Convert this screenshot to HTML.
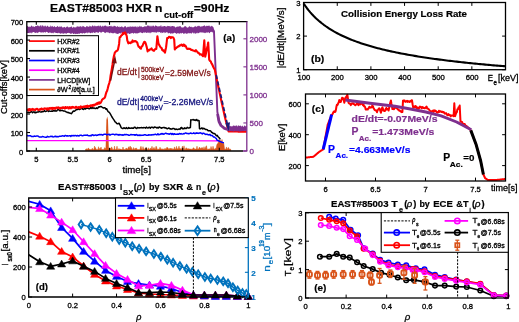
<!DOCTYPE html>
<html><head><meta charset="utf-8"><style>
html,body{margin:0;padding:0;background:#fff;overflow:hidden;}
svg{display:block;will-change:transform;font-family:"Liberation Sans", sans-serif;}
</style></head><body>
<svg width="519" height="322" viewBox="0 0 519 322">
<rect x="0" y="0" width="519" height="322" fill="#fff"/>
<text transform="translate(50.00,11.90) scale(1.0271,1)" font-size="11.8" font-weight="bold" fill="#000" stroke="#000" stroke-width="0.195">EAST#85003 HXR n</text>
<text transform="translate(164.10,17.80) scale(0.9946,1)" font-size="9.4" font-weight="bold" fill="#000" stroke="#000" stroke-width="0.201">cut-off</text>
<text transform="translate(193.70,11.90) scale(1.0399,1)" font-size="11.8" font-weight="bold" fill="#000" stroke="#000" stroke-width="0.192">=90Hz</text>
<polygon points="26.80,26.67 27.40,25.78 28.00,26.50 28.60,27.05 29.20,26.21 29.80,27.15 30.40,27.12 31.00,26.00 31.60,25.45 32.20,26.01 32.80,26.88 33.40,26.18 34.00,26.76 34.60,27.02 35.20,26.26 35.80,26.09 36.40,26.11 37.00,26.16 37.60,25.17 38.20,25.44 38.80,26.37 39.40,26.41 40.00,25.54 40.60,25.39 41.20,25.18 41.80,26.90 42.40,25.26 43.00,25.14 43.60,26.77 44.20,25.51 44.80,26.76 45.40,25.19 46.00,26.73 46.60,26.77 47.20,25.53 47.80,25.98 48.40,26.66 49.00,26.79 49.60,26.84 50.20,26.69 50.80,25.35 51.40,26.58 52.00,26.78 52.60,25.65 53.20,27.04 53.80,26.87 54.40,25.89 55.00,26.78 55.60,27.19 56.20,26.94 56.80,26.74 57.40,25.72 58.00,26.45 58.60,27.18 59.20,25.91 59.80,27.13 60.40,26.28 61.00,27.28 61.60,26.08 62.20,26.94 62.80,27.65 63.40,27.32 64.00,27.31 64.60,26.72 65.20,27.49 65.80,27.70 66.40,26.84 67.00,26.75 67.60,26.22 68.20,27.85 68.80,27.09 69.40,27.58 70.00,26.87 70.60,27.25 71.20,26.13 71.80,26.65 72.40,27.64 73.00,27.85 73.60,26.61 74.20,27.82 74.80,26.98 75.40,27.26 76.00,27.68 76.60,26.47 77.20,26.45 77.80,26.32 78.40,27.09 79.00,26.08 79.60,26.92 80.20,26.09 80.80,26.49 81.40,26.54 82.00,27.41 82.60,25.73 83.20,26.18 83.80,26.13 84.40,26.63 85.00,27.24 85.60,27.30 86.20,26.46 86.80,26.03 87.40,26.15 88.00,26.77 88.60,26.65 89.20,26.80 89.80,25.51 90.40,26.31 91.00,26.49 91.60,26.70 92.20,25.58 92.80,25.43 93.40,25.94 94.00,26.73 94.60,25.45 95.20,25.66 95.80,26.43 96.40,26.11 97.00,26.53 97.60,25.78 98.20,26.33 98.80,25.13 99.40,26.77 100.00,25.33 100.60,25.63 101.20,26.36 101.80,26.89 102.40,26.12 103.00,25.46 103.60,26.71 104.20,25.85 104.80,25.87 105.40,25.57 106.00,25.81 106.60,26.21 107.20,27.08 107.80,25.84 108.40,26.66 109.00,25.92 109.60,26.10 110.20,26.53 110.80,25.64 111.40,25.63 112.00,27.11 112.60,26.25 113.20,26.73 113.80,25.86 114.40,25.77 115.00,26.33 115.60,26.24 116.20,26.41 116.80,27.22 117.40,25.87 118.00,26.69 118.60,27.11 119.20,26.17 119.80,27.59 120.40,26.77 121.00,26.91 121.60,26.35 122.20,26.38 122.80,27.24 123.40,27.60 124.00,26.94 124.60,26.37 125.20,26.18 125.80,26.19 126.40,27.50 127.00,27.38 127.60,26.75 128.20,26.38 128.80,27.33 129.40,26.36 130.00,27.50 130.60,26.12 131.20,26.82 131.80,26.87 132.40,26.73 133.00,26.06 133.60,27.06 134.20,26.74 134.80,26.49 135.40,26.74 136.00,25.96 136.60,27.17 137.20,27.40 137.80,26.12 138.40,26.70 139.00,27.19 139.60,25.83 140.20,26.06 140.80,27.08 141.40,26.16 142.00,26.73 142.60,27.14 143.20,27.08 143.80,26.82 144.40,26.28 145.00,26.53 145.60,26.22 146.20,26.78 146.80,25.97 147.40,25.56 148.00,25.52 148.60,25.71 149.20,25.39 149.80,26.43 150.40,26.59 151.00,25.36 151.60,26.52 152.20,26.47 152.80,25.42 153.40,25.49 154.00,26.18 154.60,26.87 155.20,25.67 155.80,25.16 156.40,25.99 157.00,26.00 157.60,26.57 158.20,26.73 158.80,25.94 159.40,25.92 160.00,26.63 160.60,25.47 161.20,25.33 161.80,26.91 162.40,26.21 163.00,26.48 163.60,26.16 164.20,26.03 164.80,25.88 165.40,26.85 166.00,25.87 166.60,26.88 167.20,26.34 167.80,25.69 168.40,26.06 169.00,26.23 169.60,26.32 170.20,25.66 170.80,27.00 171.40,26.16 172.00,26.06 172.60,25.95 173.20,26.34 173.80,26.25 174.40,26.35 175.00,27.07 175.60,27.69 176.20,26.58 176.80,27.34 177.40,26.58 178.00,26.61 178.60,26.86 179.20,26.04 179.80,26.59 180.40,26.10 181.00,26.77 181.60,27.42 182.20,27.80 182.80,27.22 183.40,27.45 184.00,26.91 184.60,26.16 185.20,26.10 185.80,26.43 186.40,26.80 187.00,27.79 187.60,27.57 188.20,27.54 188.80,26.72 189.40,26.10 190.00,26.84 190.60,27.11 191.20,26.56 191.80,27.20 192.40,27.15 193.00,27.22 193.60,27.35 194.20,26.90 194.80,26.22 195.40,25.76 196.00,27.37 196.60,26.70 197.20,25.69 197.80,26.46 198.40,26.07 199.00,25.58 199.60,26.22 200.20,26.15 200.80,26.88 201.40,26.26 202.00,26.38 202.60,26.33 203.20,26.08 203.80,25.70 204.40,25.27 205.00,25.72 205.60,26.82 206.20,25.59 206.80,26.34 207.40,25.73 208.00,25.88 208.60,25.58 209.20,26.48 209.80,25.27 210.40,26.84 211.00,26.42 211.60,25.78 212.20,25.93 212.80,26.75 213.60,27.50 214.40,31.80 212.80,32.72 212.20,31.81 211.60,31.85 211.00,32.34 210.40,31.80 209.80,33.03 209.20,33.19 208.60,32.02 208.00,32.70 207.40,32.61 206.80,32.19 206.20,32.74 205.60,33.16 205.00,32.20 204.40,33.30 203.80,32.69 203.20,32.55 202.60,32.34 202.00,32.98 201.40,32.20 200.80,32.12 200.20,32.76 199.60,32.28 199.00,33.37 198.40,32.88 197.80,33.61 197.20,32.61 196.60,32.99 196.00,33.66 195.40,33.75 194.80,32.45 194.20,33.75 193.60,33.56 193.00,32.52 192.40,32.51 191.80,33.59 191.20,33.38 190.60,32.99 190.00,33.48 189.40,33.24 188.80,32.71 188.20,33.38 187.60,33.36 187.00,34.06 186.40,33.82 185.80,32.80 185.20,33.65 184.60,33.55 184.00,33.46 183.40,34.06 182.80,32.84 182.20,32.99 181.60,33.29 181.00,33.78 180.40,32.70 179.80,33.79 179.20,33.60 178.60,33.20 178.00,33.45 177.40,33.09 176.80,33.97 176.20,33.47 175.60,33.04 175.00,33.18 174.40,32.56 173.80,33.03 173.20,33.54 172.60,33.68 172.00,32.94 171.40,33.46 170.80,33.63 170.20,33.44 169.60,32.95 169.00,32.77 168.40,33.42 167.80,33.30 167.20,32.09 166.60,32.28 166.00,32.61 165.40,32.65 164.80,33.21 164.20,31.94 163.60,32.53 163.00,32.56 162.40,32.99 161.80,33.24 161.20,31.94 160.60,33.26 160.00,32.07 159.40,31.97 158.80,32.51 158.20,31.78 157.60,31.82 157.00,32.74 156.40,32.84 155.80,31.87 155.20,33.07 154.60,32.00 154.00,32.73 153.40,31.90 152.80,32.35 152.20,31.88 151.60,32.84 151.00,31.96 150.40,33.28 149.80,33.18 149.20,32.29 148.60,33.06 148.00,32.21 147.40,32.81 146.80,32.71 146.20,32.89 145.60,32.21 145.00,32.62 144.40,32.69 143.80,32.36 143.20,32.86 142.60,33.23 142.00,33.09 141.40,32.68 140.80,32.57 140.20,32.30 139.60,32.49 139.00,33.26 138.40,32.84 137.80,33.74 137.20,33.07 136.60,33.16 136.00,33.87 135.40,33.13 134.80,32.63 134.20,33.29 133.60,33.78 133.00,33.37 132.40,32.66 131.80,33.39 131.20,32.95 130.60,33.45 130.00,33.95 129.40,34.04 128.80,33.26 128.20,33.54 127.60,33.48 127.00,33.79 126.40,33.49 125.80,32.82 125.20,33.43 124.60,33.71 124.00,33.75 123.40,32.88 122.80,33.82 122.20,32.88 121.60,32.70 121.00,32.63 120.40,33.71 119.80,33.20 119.20,33.04 118.60,33.85 118.00,33.65 117.40,33.90 116.80,33.75 116.20,33.45 115.60,33.56 115.00,32.61 114.40,32.97 113.80,33.43 113.20,33.06 112.60,33.54 112.00,32.82 111.40,33.19 110.80,32.20 110.20,33.23 109.60,33.14 109.00,32.76 108.40,32.47 107.80,32.19 107.20,32.60 106.60,32.14 106.00,32.14 105.40,33.26 104.80,32.78 104.20,32.45 103.60,31.84 103.00,32.11 102.40,31.77 101.80,31.93 101.20,32.90 100.60,32.56 100.00,31.77 99.40,31.75 98.80,32.38 98.20,32.96 97.60,32.45 97.00,32.33 96.40,32.13 95.80,31.98 95.20,33.17 94.60,33.03 94.00,32.52 93.40,32.27 92.80,32.39 92.20,33.21 91.60,32.50 91.00,32.88 90.40,33.25 89.80,32.93 89.20,32.22 88.60,33.01 88.00,32.04 87.40,33.44 86.80,32.84 86.20,32.47 85.60,33.06 85.00,33.32 84.40,33.48 83.80,33.13 83.20,32.87 82.60,33.64 82.00,33.31 81.40,33.30 80.80,32.99 80.20,33.30 79.60,33.66 79.00,33.81 78.40,33.56 77.80,33.92 77.20,33.63 76.60,33.95 76.00,33.43 75.40,34.13 74.80,33.74 74.20,33.62 73.60,34.12 73.00,34.05 72.40,32.74 71.80,33.57 71.20,33.68 70.60,34.04 70.00,32.90 69.40,33.25 68.80,32.78 68.20,33.08 67.60,32.98 67.00,33.08 66.40,33.92 65.80,32.97 65.20,33.69 64.60,33.03 64.00,33.80 63.40,33.60 62.80,33.96 62.20,32.65 61.60,33.37 61.00,33.86 60.40,33.82 59.80,32.66 59.20,33.57 58.60,32.54 58.00,33.58 57.40,32.97 56.80,32.89 56.20,33.08 55.60,33.02 55.00,32.22 54.40,32.58 53.80,32.44 53.20,33.50 52.60,32.95 52.00,32.55 51.40,33.26 50.80,33.11 50.20,32.28 49.60,32.48 49.00,32.79 48.40,32.90 47.80,32.46 47.20,32.04 46.60,31.84 46.00,32.11 45.40,32.86 44.80,32.22 44.20,32.11 43.60,32.65 43.00,32.30 42.40,32.40 41.80,32.02 41.20,32.98 40.60,32.29 40.00,32.32 39.40,31.83 38.80,32.08 38.20,32.82 37.60,33.26 37.00,32.20 36.40,32.80 35.80,32.79 35.20,33.12 34.60,32.57 34.00,32.27 33.40,32.02 32.80,31.98 32.20,32.91 31.60,33.47 31.00,32.11 30.40,33.30 29.80,32.57 29.20,33.34 28.60,32.95 28.00,33.10 27.40,32.95 26.80,33.12" fill="#7E2F8E"/>
<polyline points="213.00,29.50 214.00,31.50 217.40,112.20 218.80,120.50" fill="none" stroke="#7E2F8E" stroke-width="1.9" stroke-linejoin="round" stroke-linecap="butt" />
<polygon points="85.50,150.50 85.50,149.60 86.00,148.81 86.50,149.03 87.00,149.42 87.50,149.59 88.00,148.22 88.50,148.11 89.00,149.36 89.50,149.37 90.00,149.59 90.50,149.60 91.00,149.53 91.50,149.19 92.00,149.60 92.50,148.21 93.00,149.59 93.50,149.59 94.00,149.60 94.50,146.13 95.00,148.56 95.50,147.55 96.00,149.10 96.50,149.60 97.00,149.56 97.50,149.39 98.00,149.60 98.50,146.73 99.00,149.54 99.50,149.60 100.00,148.04 100.50,149.60 101.00,147.00 101.50,149.45 102.00,149.28 102.50,149.55 103.00,149.41 103.50,149.60 104.00,149.60 104.50,147.63 105.00,149.59 105.50,148.30 106.00,149.59 106.50,146.52 107.00,147.36 107.50,148.46 108.00,148.42 108.50,149.20 109.00,148.61 109.50,149.60 110.00,149.42 110.50,147.96 111.00,149.59 111.50,147.06 112.00,147.43 112.50,149.50 113.00,149.54 113.50,149.45 114.00,149.52 114.50,146.17 115.00,149.52 115.50,149.60 116.00,149.60 116.50,148.67 117.00,146.20 117.50,149.39 118.00,149.40 118.50,149.28 119.00,148.50 119.50,149.59 120.00,149.12 120.50,149.26 121.00,149.07 121.50,149.60 122.00,149.60 122.50,149.55 123.00,147.01 123.50,149.55 124.00,149.15 124.50,149.57 125.00,149.60 125.50,149.60 126.00,148.07 126.50,148.32 127.00,149.53 127.50,148.84 128.00,148.87 128.50,147.32 129.00,146.65 129.50,149.50 130.00,146.25 130.50,146.61 131.00,149.17 131.50,147.47 132.00,149.40 132.50,149.53 133.00,149.59 133.50,147.54 134.00,149.60 134.50,149.60 135.00,148.13 135.50,148.34 136.00,149.41 136.50,147.88 137.00,149.60 137.50,149.58 138.00,149.58 138.50,149.49 139.00,149.60 139.50,149.60 140.00,149.55 140.50,147.31 141.00,146.33 141.50,148.52 142.00,149.42 142.50,149.59 143.00,146.64 143.50,149.33 144.00,148.61 144.50,149.60 145.00,149.59 145.50,147.87 146.00,148.20 146.50,147.49 147.00,149.14 147.50,149.48 148.00,149.20 148.50,147.78 149.00,149.57 149.50,149.31 150.00,149.58 150.50,147.98 151.00,149.20 151.50,148.43 152.00,146.30 152.50,149.20 153.00,148.77 153.50,148.60 154.00,147.36 154.50,148.79 155.00,149.18 155.50,149.11 156.00,146.24 156.50,146.85 157.00,149.20 157.50,149.20 158.00,149.20 158.50,149.20 159.00,149.06 159.50,149.20 160.00,147.22 160.50,148.55 161.00,149.20 161.50,148.91 162.00,149.16 162.50,148.99 163.00,149.19 163.50,149.20 164.00,149.20 164.50,149.13 165.00,148.31 165.50,148.88 166.00,149.20 166.50,148.31 167.00,147.16 167.50,147.94 168.00,147.83 168.50,149.20 169.00,149.04 169.50,149.20 170.00,148.01 170.50,149.20 171.00,148.30 171.50,149.19 172.00,148.38 172.50,149.17 173.00,149.20 173.50,149.12 174.00,149.17 174.50,146.90 175.00,149.17 175.50,148.98 176.00,148.88 176.50,146.37 177.00,149.20 177.50,148.74 178.00,148.97 178.50,148.18 179.00,146.14 179.50,149.17 180.00,148.36 180.50,148.93 181.00,148.85 181.50,149.20 182.00,147.66 182.50,146.01 183.00,149.14 183.50,149.16 184.00,145.79 184.50,149.20 185.00,149.20 185.50,149.20 186.00,147.66 186.50,148.03 187.00,149.06 187.50,148.68 188.00,149.20 188.50,148.60 189.00,149.07 189.50,148.95 190.00,149.12 190.50,149.11 191.00,149.19 191.50,149.20 192.00,149.08 192.50,149.19 193.00,148.34 193.50,147.64 194.00,148.24 194.50,149.05 195.00,149.19 195.50,149.12 196.00,149.00 196.50,148.64 197.00,146.19 197.50,149.20 198.00,149.01 198.50,149.00 199.00,148.27 199.50,147.00 200.00,147.91 200.50,148.66 201.00,148.04 201.50,148.50 202.00,147.30 202.50,148.36 203.00,148.44 203.50,149.19 204.00,146.73 204.50,149.12 205.00,148.70 205.50,147.58 206.00,146.18 206.50,145.85 207.00,149.20 207.50,149.17 208.00,149.17 208.50,149.12 209.00,149.20 209.50,148.87 210.00,149.20 210.50,149.17 211.00,146.43 211.50,148.14 212.00,149.04 212.50,149.20 213.00,146.28 213.50,148.34 214.00,149.19 214.50,149.16 215.00,148.61 215.50,148.44 216.00,149.18 216.50,146.33 217.00,144.36 217.50,143.82 218.00,142.90 218.50,141.99 219.00,139.44 219.50,140.53 220.00,140.74 220.50,140.35 221.00,141.02 221.50,141.74 222.00,139.45 222.50,142.76 223.00,143.38 223.50,142.18 224.00,145.10 224.50,148.89 225.00,149.20 225.50,149.17 226.00,149.05 226.50,146.96 227.00,149.13 227.50,149.20 228.00,147.82 228.50,147.60 229.00,148.93 229.50,149.20 230.00,149.20 230.50,149.11 231.00,150.50" fill="#D95319" stroke="#D95319" stroke-width="0.5"/>
<polygon points="105.6,150.5 106.4,120 107.2,116.5 108,120 108.9,150.5" fill="#D95319"/>
<polyline points="26.80,140.60 160.00,140.60 217.90,140.90" fill="none" stroke="#FF00FF" stroke-width="1.3" stroke-linejoin="round" stroke-linecap="butt" />
<polyline points="26.80,135.64 27.63,135.55 28.45,135.89 29.28,135.69 30.11,135.65 30.94,136.03 31.76,136.59 32.59,136.52 33.42,136.53 34.25,136.03 35.07,136.39 35.90,136.18 36.73,136.12 37.55,136.10 38.38,136.25 39.21,137.01 40.04,136.96 40.86,136.98 41.69,137.02 42.52,136.46 43.35,136.62 44.17,136.98 45.00,137.13 45.80,137.22 46.60,137.21 47.40,136.38 48.20,136.86 49.00,136.89 49.80,136.69 50.60,136.33 51.40,136.59 52.20,136.17 53.00,136.97 53.80,136.87 54.60,136.52 55.40,136.23 56.20,136.80 57.00,136.43 57.80,136.71 58.60,136.64 59.40,136.26 60.20,136.13 61.00,136.28 61.80,136.08 62.60,135.77 63.40,135.88 64.20,136.35 65.00,135.54 65.83,135.52 66.65,136.08 67.48,135.72 68.30,135.95 69.13,135.86 69.96,135.71 70.78,136.35 71.61,135.52 72.43,135.72 73.26,135.49 74.09,135.89 74.91,135.52 75.74,135.57 76.57,135.94 77.39,135.49 78.22,135.71 79.04,136.03 79.87,135.21 80.70,135.15 81.52,135.29 82.35,135.81 83.17,135.64 84.00,135.24 84.81,135.30 85.63,135.11 86.44,135.36 87.26,134.91 88.07,135.53 88.89,135.70 89.70,135.72 90.52,135.47 91.33,135.66 92.15,134.68 92.96,134.92 93.78,135.57 94.59,135.34 95.41,134.94 96.22,135.44 97.04,135.09 97.85,135.25 98.67,134.69 99.48,134.56 100.30,134.78 101.11,134.44 101.93,134.65 102.74,135.20 103.56,134.53 104.37,134.18 105.19,134.18 106.00,134.27 106.81,134.89 107.61,134.48 108.42,134.42 109.22,134.24 110.03,135.13 110.84,134.59 111.64,134.38 112.45,134.24 113.26,134.25 114.06,134.37 114.87,134.89 115.67,134.37 116.48,134.28 117.29,134.74 118.09,134.51 118.90,135.26 119.71,134.40 120.51,134.82 121.32,135.07 122.12,134.72 122.93,135.31 123.74,134.81 124.54,134.58 125.35,134.76 126.16,134.40 126.96,134.79 127.77,134.63 128.57,135.28 129.38,135.23 130.19,134.91 130.99,134.45 131.80,134.69 132.61,134.69 133.41,134.66 134.22,134.70 135.02,135.34 135.83,134.63 136.64,134.55 137.44,135.43 138.25,135.08 139.06,135.52 139.86,134.94 140.67,135.45 141.47,135.21 142.28,135.36 143.09,135.32 143.89,135.08 144.70,134.69 145.53,134.76 146.35,135.36 147.18,135.33 148.00,135.30 148.83,134.66 149.66,134.92 150.48,135.01 151.31,134.80 152.13,134.91 152.96,134.57 153.79,134.64 154.61,134.62 155.44,134.15 156.26,134.75 157.09,134.72 157.91,133.79 158.74,134.63 159.57,134.56 160.39,134.21 161.22,133.53 162.04,134.33 162.87,133.51 163.70,134.29 164.52,133.93 165.35,133.27 166.17,133.32 167.00,133.74 167.81,133.73 168.62,133.97 169.44,134.21 170.25,133.57 171.06,133.42 171.88,134.40 172.69,133.55 173.50,134.48 174.34,133.68 175.19,134.33 176.03,134.27 176.88,134.33 177.72,133.96 178.56,134.25 179.41,133.54 180.25,133.97 181.09,133.59 181.94,134.12 182.78,133.96 183.62,133.62 184.47,133.64 185.31,133.10 186.16,133.07 187.00,133.59 187.84,133.46 188.69,133.81 189.53,133.53 190.38,133.04 191.22,133.24 192.06,133.62 192.91,133.35 193.75,132.81 194.59,133.61 195.44,133.58 196.28,132.81 197.12,133.24 197.97,133.06 198.81,133.44 199.66,132.94 200.50,132.83 201.36,133.24 202.23,133.88 203.09,133.16 203.95,133.33 204.82,133.99 205.68,134.41 206.55,134.19 207.41,134.27 208.27,134.85 209.14,134.92 210.00,134.37 210.88,135.63 211.77,135.40 212.65,135.95 213.53,136.94 214.42,136.97 215.30,137.80 216.17,138.30 217.03,140.14 217.90,140.58 218.93,140.92 219.97,141.63 221.00,141.84 221.97,142.34 222.93,142.60 223.90,142.90" fill="none" stroke="#0000FF" stroke-width="1.5" stroke-linejoin="round" stroke-linecap="butt" />
<polyline points="26.80,112.13 27.62,112.53 28.44,112.26 29.26,112.56 30.08,112.56 30.90,111.74 31.72,111.64 32.54,112.76 33.36,111.92 34.18,111.86 35.00,112.89 35.86,112.08 36.72,112.50 37.58,111.92 38.43,112.06 39.29,111.29 40.15,111.89 41.01,112.13 41.87,111.57 42.72,111.79 43.58,111.61 44.44,110.67 45.30,111.56 46.11,111.27 46.92,110.82 47.73,110.39 48.54,111.50 49.35,110.90 50.16,111.19 50.97,111.36 51.78,111.08 52.59,111.32 53.41,110.53 54.22,111.04 55.03,110.49 55.84,111.13 56.65,110.99 57.46,109.85 58.27,109.85 59.08,109.91 59.89,110.90 60.70,110.11 61.54,110.60 62.38,110.37 63.21,110.89 64.05,110.94 64.89,111.12 65.73,111.67 66.56,111.89 67.40,112.57 68.38,112.50 69.35,113.10 70.33,113.25 71.30,113.69 72.26,112.50 73.22,111.05 74.18,111.28 75.14,110.69 76.10,109.87 76.94,109.33 77.79,109.47 78.63,108.71 79.47,109.51 80.32,109.09 81.16,108.62 82.01,108.25 82.85,109.30 83.69,109.42 84.54,108.10 85.38,109.03 86.22,108.42 87.07,108.00 87.91,108.14 88.76,108.74 89.60,108.82 90.47,107.60 91.34,108.34 92.21,107.48 93.08,108.37 93.95,107.76 94.82,108.47 95.69,108.55 96.56,107.83 97.43,108.46 98.30,107.43 99.15,106.66 100.00,106.94 100.84,106.42 101.67,106.93 102.51,107.50 103.35,108.05 104.19,107.69 105.03,107.81 105.86,109.24 106.70,108.74 107.53,110.77 108.35,111.81 109.17,112.20 110.00,113.44 110.85,114.93 111.70,116.50 112.55,117.83 113.40,119.18 114.25,120.39 115.10,121.97 115.95,122.48 116.80,123.50 117.90,123.91 119.00,123.23 120.10,125.02 121.20,127.67 122.30,128.53 123.10,128.53 123.90,127.74 124.70,128.27 125.50,128.47 126.30,127.65 127.10,128.45 127.90,128.44 128.70,127.60 129.50,128.36 130.30,128.10 131.10,128.36 131.90,127.87 132.70,128.33 133.50,128.33 134.30,127.32 135.11,127.35 135.91,128.20 136.71,128.59 137.52,127.58 138.32,127.85 139.12,128.02 139.92,127.63 140.73,127.67 141.53,127.59 142.33,127.65 143.14,127.95 143.94,127.52 144.74,127.62 145.55,128.15 146.35,127.10 147.15,127.84 147.95,128.06 148.76,127.45 149.56,127.31 150.36,128.11 151.17,127.30 151.97,127.21 152.77,127.55 153.58,127.90 154.38,127.05 155.18,127.34 155.98,127.34 156.79,128.03 157.59,127.46 158.39,128.03 159.20,127.05 160.00,127.27 160.84,127.80 161.69,128.21 162.53,127.69 163.38,127.47 164.22,127.41 165.06,128.07 165.91,127.68 166.75,128.63 167.59,128.76 168.44,127.93 169.28,128.15 170.12,128.98 170.97,128.84 171.81,129.15 172.66,128.60 173.50,128.38 174.30,128.75 175.10,129.59 175.90,129.00 176.70,129.24 177.50,129.48 178.32,129.21 179.14,128.91 179.96,129.35 180.78,128.00 181.60,127.51 182.40,128.76 183.20,128.60 184.00,128.69 184.80,127.85 185.60,128.51 186.40,128.42 187.20,127.37 188.00,128.03 188.80,128.10 189.60,127.79 190.40,127.53 190.80,119.80 191.63,119.88 192.46,119.72 193.29,119.50 194.12,120.22 194.95,119.80 195.78,120.53 196.61,119.46 197.44,120.67 198.27,120.37 199.10,120.69 199.50,128.76 200.33,128.88 201.17,128.54 202.00,127.87 202.83,129.01 203.67,128.32 204.50,128.62 205.42,129.46 206.33,129.60 207.25,129.78 208.17,130.85 209.08,130.72 210.00,130.68 210.80,131.09 211.60,132.49 212.40,132.49 213.20,133.46 214.00,133.39 214.82,133.73 215.63,134.75 216.45,135.69 217.27,135.34 218.08,136.76 218.90,137.49 220.40,139.40" fill="none" stroke="#000" stroke-width="1.5" stroke-linejoin="round" stroke-linecap="butt" />
<polyline points="26.80,109.94 27.41,109.76 28.01,109.35 28.62,110.49 29.23,109.08 29.83,109.84 30.44,110.44 31.05,109.10 31.65,109.82 32.26,109.89 32.87,108.93 33.47,109.44 34.08,109.93 34.69,109.49 35.29,109.89 35.90,108.95 36.51,109.05 37.11,108.81 37.72,109.41 38.33,110.04 38.93,109.48 39.54,109.74 40.15,109.08 40.75,109.63 41.36,108.56 41.97,108.83 42.57,109.41 43.18,109.46 43.79,108.94 44.39,108.37 45.00,108.63 45.60,108.50 46.20,108.57 46.80,109.38 47.40,108.36 48.00,109.42 48.60,109.37 49.20,108.01 49.80,108.49 50.40,108.63 51.00,107.84 51.60,108.44 52.20,109.17 52.80,107.86 53.40,108.59 54.00,107.79 54.60,108.49 55.20,108.95 55.80,107.80 56.40,107.45 57.00,107.53 57.60,108.22 58.20,107.35 58.80,107.42 59.40,108.03 60.00,108.67 60.61,107.85 61.22,107.79 61.83,108.15 62.44,107.26 63.05,108.01 63.66,107.34 64.27,108.01 64.88,108.55 65.49,107.08 66.10,107.86 66.71,107.92 67.32,107.16 67.93,107.33 68.54,108.47 69.15,108.45 69.76,107.02 70.37,107.94 70.98,108.31 71.59,107.14 72.21,107.72 72.82,106.78 73.43,107.28 74.04,107.75 74.65,107.59 75.26,107.86 75.87,106.74 76.48,107.13 77.09,107.94 77.70,107.47 78.31,107.23 78.92,107.13 79.53,108.04 80.14,107.36 80.75,106.44 81.36,107.67 81.97,106.90 82.58,107.04 83.19,106.66 83.80,107.01 84.40,106.70 85.00,106.20 85.60,106.95 86.20,105.99 86.80,106.96 87.40,105.63 88.00,106.72 88.60,106.64 89.20,106.03 89.80,106.25 90.40,105.39 91.00,106.06 91.60,105.44 92.20,105.01 92.80,106.06 93.40,105.04 94.02,104.75 94.64,105.28 95.25,104.25 95.87,104.49 96.49,103.45 97.11,104.28 97.73,103.10 98.35,102.52 98.96,103.75 99.58,102.22 100.20,103.21 100.81,102.62 101.43,101.36 102.04,99.75 102.66,99.17 103.27,98.75 103.89,98.38 104.50,98.08 105.16,96.85 105.82,94.07 106.48,91.93 107.14,90.80 107.80,88.32 108.53,85.27 109.27,83.06 110.00,80.31 110.62,75.39 111.23,72.09 111.85,68.58 112.47,64.76 113.08,60.23 113.70,57.12 114.80,52.77 115.90,51.44 116.60,51.00 117.30,50.64 118.00,49.49 119.10,43.96 119.70,37.28 120.50,37.00 121.30,35.38 122.10,35.01 122.90,33.03 123.63,33.98 124.37,32.92 125.10,32.42 125.90,34.03 126.70,35.83 127.30,40.29 128.40,43.32 129.10,42.61 129.80,42.74 130.50,43.11 131.20,42.06 131.90,42.31 132.60,40.45 133.30,41.59 133.94,41.52 134.58,41.07 135.22,41.14 135.86,41.26 136.50,41.96 137.23,42.40 137.97,45.13 138.70,46.77 139.43,46.95 140.17,48.19 140.90,48.75 141.70,46.42 142.50,46.02 143.10,44.26 143.70,42.95 144.30,41.82 145.15,42.23 146.00,44.46 146.80,47.35 147.60,51.41 148.26,49.95 148.92,50.48 149.58,49.91 150.24,49.32 150.90,49.30 151.54,48.38 152.18,49.70 152.82,50.14 153.46,50.66 154.10,50.65 154.83,49.41 155.57,48.90 156.30,48.87 157.40,36.19 158.50,43.60 159.30,45.17 160.10,46.45 160.83,47.62 161.57,47.87 162.30,50.14 162.98,49.98 163.65,51.25 164.32,50.56 165.00,52.63 166.10,47.14 167.20,37.96 167.80,38.04 168.40,37.87 169.00,36.77 169.60,37.22 170.20,37.10 170.80,38.05 171.40,37.17 172.00,37.29 172.60,37.18 173.40,37.74 174.20,39.60 174.80,49.46 175.50,48.05 176.20,48.19 176.90,47.30 177.60,46.94 178.25,46.37 178.90,46.48 179.55,45.53 180.20,45.24 180.85,45.35 181.50,44.52 182.16,45.02 182.82,45.95 183.48,44.60 184.14,44.85 184.80,46.08 185.44,45.67 186.08,46.76 186.72,48.50 187.36,48.89 188.00,49.05 188.65,48.64 189.30,48.84 189.95,48.73 190.60,49.38 191.26,49.90 191.93,49.83 192.59,50.26 193.25,50.54 193.91,50.69 194.57,51.00 195.24,51.31 195.90,50.15 196.55,51.06 197.20,51.50 197.85,52.62 198.50,52.99 199.15,53.31 199.80,54.64 200.44,54.32 201.08,54.39 201.72,54.88 202.36,55.56 203.00,56.18 203.65,48.31 204.30,40.30 205.20,56.80 205.80,54.28 206.40,51.30 207.00,48.19 207.60,45.93 208.20,42.50 209.20,59.64 209.97,60.85 210.73,61.32 211.50,63.40 212.15,64.24 212.80,65.72 213.45,67.27 214.10,68.40 214.90,70.00 215.53,73.10 216.15,76.20 216.78,79.30 217.40,82.40 218.02,85.30 218.63,88.20 219.25,91.10 219.87,94.00 220.48,96.90 221.10,99.80 221.73,102.68 222.37,105.57 223.00,108.45 223.63,111.33 224.27,114.22 224.90,117.10 225.52,119.50 226.13,121.90 226.75,124.30 227.37,126.70 227.98,129.10 228.60,131.50 229.24,131.50 229.88,131.50 230.52,131.50 231.16,131.50 231.80,131.50 232.44,131.50 233.08,131.50 233.72,131.50 234.36,131.50 235.00,131.50 235.62,131.52 236.24,131.53 236.86,131.55 237.48,131.56 238.11,131.58 238.73,131.59 239.35,131.61 239.97,131.63 240.59,131.64 241.21,131.66 241.83,131.67 242.45,131.69 243.07,131.71 243.69,131.72 244.32,131.74 244.94,131.75 245.56,131.77 246.18,131.78 246.80,131.80" fill="none" stroke="#FF0000" stroke-width="2.1" stroke-linejoin="round" stroke-linecap="butt" />
<polyline points="217.60,114.00 219.00,121.50 221.00,125.50 224.50,128.30 228.40,129.60" fill="none" stroke="#7E2F8E" stroke-width="2.8" stroke-linejoin="round" stroke-linecap="butt" />
<polygon points="227.50,126.53 228.10,125.70 228.70,125.94 229.30,125.41 229.90,126.60 230.50,125.83 231.10,126.68 231.70,126.03 232.30,126.55 232.90,125.80 233.50,125.55 234.10,125.40 234.70,126.11 235.30,125.61 235.90,126.16 236.50,125.36 237.10,125.43 237.70,126.76 238.30,125.48 238.90,125.35 239.50,126.05 240.10,126.04 240.70,125.34 241.30,126.81 241.90,125.97 242.50,125.57 243.10,126.69 243.70,126.84 244.30,125.65 244.90,125.36 245.50,126.62 246.10,125.98 246.70,125.83 246.70,131.27 246.10,130.98 245.50,130.93 244.90,130.84 244.30,131.21 243.70,131.17 243.10,131.07 242.50,131.06 241.90,130.98 241.30,131.57 240.70,130.96 240.10,131.40 239.50,131.64 238.90,130.97 238.30,131.49 237.70,131.12 237.10,131.67 236.50,131.30 235.90,131.37 235.30,131.16 234.70,130.85 234.10,131.44 233.50,131.70 232.90,131.18 232.30,130.98 231.70,131.61 231.10,130.99 230.50,130.89 229.90,131.50 229.30,130.82 228.70,131.29 228.10,131.11 227.50,131.10" fill="#7E2F8E"/>
<polyline points="216.20,74.90 227.40,124.50" fill="none" stroke="#1c1c7a" stroke-width="1.7" stroke-linejoin="round" stroke-linecap="butt" stroke-dasharray="4.2,2.4"/>
<polygon points="225.3,123.2 230.0,122.2 228.7,131.2" fill="#1c1c7a"/>
<polyline points="110.60,80.50 114.40,62.00" fill="none" stroke="#7a1010" stroke-width="1.4" stroke-linejoin="round" stroke-linecap="butt" />
<polygon points="112.0,62.8 116.8,63.6 115.2,55.8" fill="#7a1010"/>
<rect x="26.8" y="35.7" width="71.7" height="59.8" fill="#fff" stroke="#000" stroke-width="1"/>
<line x1="29.00" y1="41.10" x2="54.80" y2="41.10" stroke="#FF0000" stroke-width="1.7" />
<text transform="translate(57.20,43.70) scale(1.0000,1)" font-size="7.0" fill="#000" stroke="#000" stroke-width="0.300">HXR#2</text>
<line x1="29.00" y1="50.80" x2="54.80" y2="50.80" stroke="#000" stroke-width="1.7" />
<text transform="translate(57.20,53.40) scale(1.0000,1)" font-size="7.0" fill="#000" stroke="#000" stroke-width="0.300">HXR#1</text>
<line x1="29.00" y1="60.50" x2="54.80" y2="60.50" stroke="#0000FF" stroke-width="1.7" />
<text transform="translate(57.20,63.10) scale(1.0000,1)" font-size="7.0" fill="#000" stroke="#000" stroke-width="0.300">HXR#3</text>
<line x1="29.00" y1="70.20" x2="54.80" y2="70.20" stroke="#FF00FF" stroke-width="1.7" />
<text transform="translate(57.20,72.80) scale(1.0000,1)" font-size="7.0" fill="#000" stroke="#000" stroke-width="0.300">HXR#4</text>
<line x1="29.00" y1="79.90" x2="54.80" y2="79.90" stroke="#7E2F8E" stroke-width="1.7" />
<text transform="translate(57.20,82.50) scale(1.0000,1)" font-size="7.0" fill="#000" stroke="#000" stroke-width="0.300">LHCD[kW]</text>
<line x1="29.00" y1="89.60" x2="54.80" y2="89.60" stroke="#D95319" stroke-width="1.7" />
<text transform="translate(57.20,92.30) scale(1.0534,1)" font-size="7.0" fill="#000" stroke="#000" stroke-width="0.285">∂W</text>
<text transform="translate(68.40,89.00) scale(1.0000,1)" font-size="4.8" fill="#000" stroke="#000" stroke-width="0.300">2</text>
<text transform="translate(71.60,92.30) scale(1.0128,1)" font-size="7.0" fill="#000" stroke="#000" stroke-width="0.296">/∂t[a.u.]</text>
<path d="M26.8,151.0 L26.8,21.6 L246.8,21.6" fill="none" stroke="#000" stroke-width="1.3" stroke-linecap="square"/>
<line x1="26.80" y1="151.00" x2="243.00" y2="151.00" stroke="#000" stroke-width="1.3" />
<line x1="243.00" y1="151.00" x2="247.40" y2="151.00" stroke="#7E2F8E" stroke-width="1.3" />
<line x1="246.80" y1="21.60" x2="246.80" y2="151.00" stroke="#7E2F8E" stroke-width="1.3" />
<line x1="36.30" y1="151.00" x2="36.30" y2="147.80" stroke="#000" stroke-width="1.1" />
<line x1="36.30" y1="21.60" x2="36.30" y2="24.80" stroke="#000" stroke-width="1.1" />
<text transform="translate(34.19,161.90) scale(1.0000,1)" font-size="7.6" fill="#000" stroke="#000" stroke-width="0.300">5</text>
<line x1="72.90" y1="151.00" x2="72.90" y2="147.80" stroke="#000" stroke-width="1.1" />
<line x1="72.90" y1="21.60" x2="72.90" y2="24.80" stroke="#000" stroke-width="1.1" />
<text transform="translate(67.62,161.90) scale(1.0000,1)" font-size="7.6" fill="#000" stroke="#000" stroke-width="0.300">5.5</text>
<line x1="109.50" y1="151.00" x2="109.50" y2="147.80" stroke="#000" stroke-width="1.1" />
<line x1="109.50" y1="21.60" x2="109.50" y2="24.80" stroke="#000" stroke-width="1.1" />
<text transform="translate(107.39,161.90) scale(1.0000,1)" font-size="7.6" fill="#000" stroke="#000" stroke-width="0.300">6</text>
<line x1="146.10" y1="151.00" x2="146.10" y2="147.80" stroke="#000" stroke-width="1.1" />
<line x1="146.10" y1="21.60" x2="146.10" y2="24.80" stroke="#000" stroke-width="1.1" />
<text transform="translate(140.82,161.90) scale(1.0000,1)" font-size="7.6" fill="#000" stroke="#000" stroke-width="0.300">6.5</text>
<line x1="182.70" y1="151.00" x2="182.70" y2="147.80" stroke="#000" stroke-width="1.1" />
<line x1="182.70" y1="21.60" x2="182.70" y2="24.80" stroke="#000" stroke-width="1.1" />
<text transform="translate(180.59,161.90) scale(1.0000,1)" font-size="7.6" fill="#000" stroke="#000" stroke-width="0.300">7</text>
<line x1="219.30" y1="151.00" x2="219.30" y2="147.80" stroke="#000" stroke-width="1.1" />
<line x1="219.30" y1="21.60" x2="219.30" y2="24.80" stroke="#000" stroke-width="1.1" />
<text transform="translate(214.02,161.90) scale(1.0000,1)" font-size="7.6" fill="#000" stroke="#000" stroke-width="0.300">7.5</text>
<line x1="26.80" y1="151.00" x2="30.00" y2="151.00" stroke="#000" stroke-width="1.1" />
<text transform="translate(19.08,154.60) scale(1.0000,1)" font-size="7.6" fill="#000" stroke="#000" stroke-width="0.300">0</text>
<line x1="26.80" y1="132.51" x2="30.00" y2="132.51" stroke="#000" stroke-width="1.1" />
<text transform="translate(10.63,136.11) scale(1.0000,1)" font-size="7.6" fill="#000" stroke="#000" stroke-width="0.300">100</text>
<line x1="26.80" y1="114.03" x2="30.00" y2="114.03" stroke="#000" stroke-width="1.1" />
<text transform="translate(10.63,117.63) scale(1.0000,1)" font-size="7.6" fill="#000" stroke="#000" stroke-width="0.300">200</text>
<line x1="26.80" y1="95.54" x2="30.00" y2="95.54" stroke="#000" stroke-width="1.1" />
<text transform="translate(10.63,99.14) scale(1.0000,1)" font-size="7.6" fill="#000" stroke="#000" stroke-width="0.300">300</text>
<line x1="26.80" y1="77.06" x2="30.00" y2="77.06" stroke="#000" stroke-width="1.1" />
<text transform="translate(10.63,80.66) scale(1.0000,1)" font-size="7.6" fill="#000" stroke="#000" stroke-width="0.300">400</text>
<line x1="26.80" y1="58.57" x2="30.00" y2="58.57" stroke="#000" stroke-width="1.1" />
<text transform="translate(10.63,62.17) scale(1.0000,1)" font-size="7.6" fill="#000" stroke="#000" stroke-width="0.300">500</text>
<line x1="26.80" y1="40.09" x2="30.00" y2="40.09" stroke="#000" stroke-width="1.1" />
<text transform="translate(10.63,43.69) scale(1.0000,1)" font-size="7.6" fill="#000" stroke="#000" stroke-width="0.300">600</text>
<line x1="26.80" y1="21.60" x2="30.00" y2="21.60" stroke="#000" stroke-width="1.1" />
<text transform="translate(10.63,25.20) scale(1.0000,1)" font-size="7.6" fill="#000" stroke="#000" stroke-width="0.300">700</text>
<line x1="243.40" y1="151.00" x2="246.80" y2="151.00" stroke="#7E2F8E" stroke-width="1.1" />
<text transform="translate(249.50,154.10) scale(1.0000,1)" font-size="8.0" fill="#7E2F8E" stroke="#7E2F8E" stroke-width="0.300">0</text>
<line x1="243.40" y1="122.95" x2="246.80" y2="122.95" stroke="#7E2F8E" stroke-width="1.1" />
<text transform="translate(249.50,126.05) scale(1.0000,1)" font-size="8.0" fill="#7E2F8E" stroke="#7E2F8E" stroke-width="0.300">500</text>
<line x1="243.40" y1="94.90" x2="246.80" y2="94.90" stroke="#7E2F8E" stroke-width="1.1" />
<text transform="translate(249.50,98.00) scale(1.0000,1)" font-size="8.0" fill="#7E2F8E" stroke="#7E2F8E" stroke-width="0.300">1000</text>
<line x1="243.40" y1="66.85" x2="246.80" y2="66.85" stroke="#7E2F8E" stroke-width="1.1" />
<text transform="translate(249.50,69.95) scale(1.0000,1)" font-size="8.0" fill="#7E2F8E" stroke="#7E2F8E" stroke-width="0.300">1500</text>
<line x1="243.40" y1="38.80" x2="246.80" y2="38.80" stroke="#7E2F8E" stroke-width="1.1" />
<text transform="translate(249.50,41.90) scale(1.0000,1)" font-size="8.0" fill="#7E2F8E" stroke="#7E2F8E" stroke-width="0.300">2000</text>
<text transform="translate(122.50,173.10) scale(1.0715,1)" font-size="9.0" fill="#000" stroke="#000" stroke-width="0.280">time[s]</text>
<text transform="translate(7.00,114.00) rotate(-90) scale(1.0058,1)" font-size="9.3" fill="#000" stroke="#000" stroke-width="0.298">Cut-offs[keV]</text>
<text transform="translate(223.30,41.20) scale(1.0140,1)" font-size="9.6" font-weight="bold" fill="#000" stroke="#000" stroke-width="0.197">(a)</text>
<text transform="translate(117.00,75.40) scale(1.0268,1)" font-size="8.3" fill="#801414" stroke="#801414" stroke-width="0.292">dE/dt</text>
<line x1="138.90" y1="67.20" x2="138.90" y2="78.20" stroke="#801414" stroke-width="1.0" />
<text transform="translate(141.00,71.60) scale(1.0013,1)" font-size="6.8" fill="#801414" stroke="#801414" stroke-width="0.300">500keV</text>
<text transform="translate(141.00,79.60) scale(1.0013,1)" font-size="6.8" fill="#801414" stroke="#801414" stroke-width="0.300">300keV</text>
<text transform="translate(165.10,75.80) scale(1.0263,1)" font-size="8.3" fill="#801414" stroke="#801414" stroke-width="0.292">=2.59MeV/s</text>
<text transform="translate(116.90,104.80) scale(1.0320,1)" font-size="8.3" fill="#15157f" stroke="#15157f" stroke-width="0.291">dE/dt</text>
<line x1="138.30" y1="98.40" x2="138.30" y2="110.30" stroke="#15157f" stroke-width="1.0" />
<text transform="translate(140.30,101.30) scale(0.9797,1)" font-size="6.8" fill="#15157f" stroke="#15157f" stroke-width="0.306">400keV</text>
<text transform="translate(140.30,110.00) scale(0.9797,1)" font-size="6.8" fill="#15157f" stroke="#15157f" stroke-width="0.306">100keV</text>
<text transform="translate(163.40,105.20) scale(1.0552,1)" font-size="8.3" fill="#15157f" stroke="#15157f" stroke-width="0.284">=-2.26MeV/s</text>
<polyline points="303.60,3.51 305.28,5.96 306.97,8.24 308.65,10.37 310.33,12.37 312.01,14.24 313.70,16.01 315.38,17.67 317.06,19.24 318.74,20.73 320.43,22.15 322.11,23.50 323.79,24.78 325.47,26.00 327.16,27.17 328.84,28.29 330.52,29.36 332.20,30.38 333.88,31.37 335.57,32.31 337.25,33.22 338.93,34.10 340.62,34.95 342.30,35.76 343.98,36.55 345.66,37.31 347.35,38.04 349.03,38.76 350.71,39.45 352.39,40.11 354.08,40.76 355.76,41.39 357.44,42.00 359.12,42.59 360.81,43.17 362.49,43.73 364.17,44.27 365.85,44.80 367.54,45.32 369.22,45.82 370.90,46.31 372.58,46.79 374.26,47.26 375.95,47.72 377.63,48.16 379.31,48.59 381.00,49.02 382.68,49.43 384.36,49.84 386.04,50.24 387.73,50.62 389.41,51.00 391.09,51.37 392.77,51.74 394.46,52.09 396.14,52.44 397.82,52.79 399.50,53.12 401.19,53.45 402.87,53.77 404.55,54.09 406.23,54.40 407.92,54.71 409.60,55.01 411.28,55.30 412.96,55.59 414.64,55.87 416.33,56.15 418.01,56.43 419.69,56.70 421.38,56.96 423.06,57.22 424.74,57.48 426.42,57.73 428.11,57.98 429.79,58.22 431.47,58.46 433.15,58.70 434.84,58.93 436.52,59.16 438.20,59.38 439.88,59.61 441.56,59.83 443.25,60.04 444.93,60.25 446.61,60.46 448.29,60.67 449.98,60.87 451.66,61.07 453.34,61.27 455.02,61.47 456.71,61.66 458.39,61.85 460.07,62.04 461.75,62.22 463.44,62.41 465.12,62.59 466.80,62.76 468.49,62.94 470.17,63.11 471.85,63.28 473.53,63.45 475.22,63.62 476.90,63.78 478.58,63.95 480.26,64.11 481.94,64.27 483.63,64.42 485.31,64.58 486.99,64.73 488.68,64.88 490.36,65.03 492.04,65.18 493.72,65.33 495.40,65.47 497.09,65.62 498.77,65.76 500.45,65.90 502.13,66.04 503.82,66.17 505.50,66.31" fill="none" stroke="#000" stroke-width="2.1" stroke-linejoin="round" stroke-linecap="butt" />
<rect x="303.6" y="2.5" width="201.89999999999998" height="67.2" fill="none" stroke="#000" stroke-width="1.3"/>
<text transform="translate(297.38,80.20) scale(1.0000,1)" font-size="7.7" fill="#000" stroke="#000" stroke-width="0.300">100</text>
<line x1="337.25" y1="69.70" x2="337.25" y2="66.30" stroke="#000" stroke-width="1.0" />
<line x1="337.25" y1="2.50" x2="337.25" y2="5.90" stroke="#000" stroke-width="1.0" />
<text transform="translate(331.03,80.20) scale(1.0000,1)" font-size="7.7" fill="#000" stroke="#000" stroke-width="0.300">200</text>
<line x1="370.90" y1="69.70" x2="370.90" y2="66.30" stroke="#000" stroke-width="1.0" />
<line x1="370.90" y1="2.50" x2="370.90" y2="5.90" stroke="#000" stroke-width="1.0" />
<text transform="translate(364.68,80.20) scale(1.0000,1)" font-size="7.7" fill="#000" stroke="#000" stroke-width="0.300">300</text>
<line x1="404.55" y1="69.70" x2="404.55" y2="66.30" stroke="#000" stroke-width="1.0" />
<line x1="404.55" y1="2.50" x2="404.55" y2="5.90" stroke="#000" stroke-width="1.0" />
<text transform="translate(398.33,80.20) scale(1.0000,1)" font-size="7.7" fill="#000" stroke="#000" stroke-width="0.300">400</text>
<line x1="438.20" y1="69.70" x2="438.20" y2="66.30" stroke="#000" stroke-width="1.0" />
<line x1="438.20" y1="2.50" x2="438.20" y2="5.90" stroke="#000" stroke-width="1.0" />
<text transform="translate(431.98,80.20) scale(1.0000,1)" font-size="7.7" fill="#000" stroke="#000" stroke-width="0.300">500</text>
<line x1="471.85" y1="69.70" x2="471.85" y2="66.30" stroke="#000" stroke-width="1.0" />
<line x1="471.85" y1="2.50" x2="471.85" y2="5.90" stroke="#000" stroke-width="1.0" />
<text transform="translate(465.63,80.20) scale(1.0000,1)" font-size="7.7" fill="#000" stroke="#000" stroke-width="0.300">600</text>
<line x1="303.60" y1="69.70" x2="307.00" y2="69.70" stroke="#000" stroke-width="1.0" />
<line x1="505.50" y1="69.70" x2="502.10" y2="69.70" stroke="#000" stroke-width="1.0" />
<text transform="translate(296.23,72.50) scale(1.0000,1)" font-size="7.7" fill="#000" stroke="#000" stroke-width="0.300">1</text>
<line x1="303.60" y1="36.10" x2="307.00" y2="36.10" stroke="#000" stroke-width="1.0" />
<line x1="505.50" y1="36.10" x2="502.10" y2="36.10" stroke="#000" stroke-width="1.0" />
<text transform="translate(296.23,39.30) scale(1.0000,1)" font-size="7.7" fill="#000" stroke="#000" stroke-width="0.300">2</text>
<line x1="303.60" y1="2.50" x2="307.00" y2="2.50" stroke="#000" stroke-width="1.0" />
<line x1="505.50" y1="2.50" x2="502.10" y2="2.50" stroke="#000" stroke-width="1.0" />
<text transform="translate(296.23,5.70) scale(1.0000,1)" font-size="7.7" fill="#000" stroke="#000" stroke-width="0.300">3</text>
<text transform="translate(487.80,81.30) scale(0.8200,1)" font-size="9.5" fill="#000" stroke="#000" stroke-width="0.366">E</text>
<text transform="translate(493.50,85.30) scale(0.8279,1)" font-size="7.4" fill="#000" stroke="#000" stroke-width="0.362">e</text>
<text transform="translate(498.00,81.30) scale(0.9464,1)" font-size="9.5" fill="#000" stroke="#000" stroke-width="0.317">[keV]</text>
<text transform="translate(284.00,68.30) rotate(-90) scale(1.0357,1)" font-size="9.4" fill="#000" stroke="#000" stroke-width="0.290">|dE/dt|[MeV/s]</text>
<text transform="translate(341.00,17.10) scale(1.0161,1)" font-size="9.6" font-weight="bold" fill="#000" stroke="#000" stroke-width="0.197">Collision Energy Loss Rate</text>
<text transform="translate(310.90,62.20) scale(1.0926,1)" font-size="9.6" font-weight="bold" fill="#000" stroke="#000" stroke-width="0.183">(b)</text>
<polyline points="305.50,157.60 306.03,157.55 306.55,157.49 307.08,157.44 307.61,157.39 308.13,157.33 308.66,157.28 309.19,157.23 309.71,157.17 310.24,157.12 310.77,157.07 311.29,157.01 311.82,156.96 312.35,156.91 312.87,156.85 313.40,156.80 313.91,156.36 314.42,155.93 314.93,155.49 315.44,155.05 315.95,154.62 316.45,154.18 316.96,153.75 317.47,153.31 317.98,152.87 318.49,152.44 319.00,152.00 319.52,151.66 320.05,151.32 320.57,150.99 321.10,150.65 321.62,150.31 322.15,149.98 322.68,149.64 323.20,149.30 323.70,146.57 324.20,143.83 324.70,141.10 325.20,138.37 325.70,135.63 326.20,132.90 326.70,130.17 327.20,127.43 327.70,124.70 328.26,123.27 328.81,121.84 329.37,120.41 329.93,118.99 330.49,117.56 331.04,116.13 331.60,114.70 332.10,114.76 332.60,113.99 333.10,112.82 333.68,111.78 334.25,111.37 334.82,112.00 335.40,111.68 335.90,109.85 336.40,106.74 336.90,104.85 337.55,105.01 338.20,103.28 338.75,102.30 339.30,100.07 339.80,100.89 340.30,102.07 340.80,101.87 341.60,99.38 342.10,97.69 342.60,97.89 343.10,98.24 343.70,99.90 344.30,102.82 344.85,100.51 345.40,97.81 345.90,97.00 346.40,97.82 346.90,95.49 347.40,94.85 347.95,98.55 348.50,102.68 349.07,103.51 349.65,103.41 350.23,104.02 350.80,105.12 351.33,103.70 351.87,103.37 352.40,103.30 352.97,103.92 353.55,103.42 354.12,104.13 354.70,104.75 355.27,105.23 355.85,104.60 356.43,104.53 357.00,103.58 357.52,103.03 358.03,104.32 358.55,105.09 359.07,104.07 359.58,103.59 360.10,104.38 360.68,104.03 361.25,103.67 361.82,103.26 362.40,103.22 362.97,105.31 363.55,104.59 364.12,106.36 364.70,106.37 365.20,107.38 365.70,109.54 366.20,109.64 366.72,109.16 367.23,109.37 367.75,109.53 368.27,108.46 368.78,108.31 369.30,106.72 369.82,107.12 370.33,107.65 370.85,107.37 371.37,107.41 371.88,106.55 372.40,105.54 372.97,106.30 373.55,108.26 374.12,108.97 374.70,110.10 375.27,110.22 375.85,110.59 376.43,110.42 377.00,112.24 377.57,110.14 378.15,109.91 378.73,108.63 379.30,108.29 379.83,109.42 380.37,110.90 380.90,112.68 381.40,110.57 381.90,108.24 382.40,107.40 382.93,108.89 383.47,110.62 384.00,110.76 384.57,111.03 385.15,110.76 385.73,108.84 386.30,107.96 386.88,109.44 387.45,109.00 388.03,109.45 388.60,110.57 389.18,107.49 389.75,104.86 390.32,102.59 390.90,100.52 391.40,103.72 391.90,105.70 392.40,108.99 392.92,107.89 393.43,108.40 393.95,109.25 394.47,108.28 394.98,107.61 395.50,107.68 396.15,107.56 396.80,108.45 397.45,108.52 398.10,109.67 398.68,109.91 399.25,110.80 399.82,110.54 400.40,111.10 400.90,111.61 401.40,112.11 401.90,111.12 402.40,112.04 403.00,100.64 403.50,100.47 404.00,101.28 404.50,100.44 405.00,101.25 405.50,101.83 406.00,101.42 406.50,101.16 407.00,100.90 407.50,101.90 408.00,101.06 408.50,101.26 409.00,101.42 409.50,102.00 410.00,101.38 410.50,100.96 411.00,101.43 411.50,100.30 412.00,100.30 412.60,104.27 413.20,107.50 413.71,106.65 414.23,106.73 414.74,107.22 415.25,105.92 415.76,107.21 416.27,106.48 416.79,108.57 417.30,108.53 417.95,107.66 418.60,108.63 419.25,108.08 419.90,106.61 420.55,106.80 421.20,107.09 421.74,108.29 422.28,107.05 422.82,107.17 423.36,107.95 423.90,107.76 424.44,108.18 424.98,108.18 425.52,107.76 426.06,106.99 426.60,106.54 427.12,108.48 427.63,108.36 428.15,108.96 428.67,109.19 429.18,109.80 429.70,110.42 430.33,110.96 430.97,111.44 431.60,111.41 432.23,110.97 432.87,110.70 433.50,111.95 434.02,110.23 434.53,110.88 435.05,111.23 435.57,110.67 436.08,111.30 436.60,111.85 437.18,112.69 437.75,112.11 438.32,112.28 438.90,110.73 439.47,111.91 440.05,111.34 440.62,111.19 441.20,111.87 441.72,111.72 442.23,112.03 442.75,111.72 443.27,112.53 443.78,112.17 444.30,112.90 444.88,113.63 445.45,113.36 446.03,113.11 446.60,114.24 447.18,115.00 447.75,115.26 448.32,114.17 448.90,114.89 449.49,114.77 450.07,115.12 450.66,116.39 451.25,115.58 451.84,115.43 452.43,115.40 453.01,115.75 453.60,116.21 454.30,103.32 455.10,116.14 455.68,114.49 456.25,112.84 456.82,112.29 457.40,109.24 457.97,109.31 458.55,107.16 459.12,107.40 459.70,105.48 460.50,121.80 461.07,121.75 461.65,121.69 462.23,122.30 462.80,124.14 463.43,123.91 464.07,124.04 464.70,124.03 465.33,125.44 465.97,125.87 466.60,125.91 467.12,127.18 467.65,126.96 468.18,127.59 468.70,127.89 469.23,128.52 469.75,129.14 470.28,129.77 470.80,130.40 471.34,131.84 471.88,133.28 472.42,134.72 472.96,136.16 473.50,137.60 474.04,139.04 474.58,140.48 475.12,141.92 475.66,143.36 476.20,144.80 476.70,146.60 477.20,148.40 477.70,150.20 478.20,152.00 478.70,153.80 479.20,155.60 479.70,157.40 480.20,159.20 480.70,161.00 481.24,163.70 481.78,166.40 482.32,169.10 482.86,171.80 483.40,174.50 484.00,175.73 484.60,176.97 485.20,178.20 485.74,178.56 486.28,178.92 486.82,179.28 487.36,179.64 487.90,180.00 488.41,180.00 488.91,180.00 489.42,180.00 489.92,180.00 490.43,180.00 490.94,180.00 491.44,180.00 491.95,180.00 492.46,180.00 492.96,180.00 493.47,180.00 493.98,180.00 494.48,180.00 494.99,180.00 495.49,180.00 496.00,180.00 496.50,179.95 497.00,179.89 497.50,179.84 498.00,179.79 498.50,179.74 499.00,179.68 499.50,179.63 500.00,179.58 500.50,179.53 501.00,179.47 501.50,179.42 502.00,179.37 502.50,179.32 503.00,179.26 503.50,179.21 504.00,179.16 504.50,179.11 505.00,179.05 505.50,179.00" fill="none" stroke="#FF0000" stroke-width="2.0" stroke-linejoin="round" stroke-linecap="butt" />
<polyline points="323.20,149.30 331.60,114.70" fill="none" stroke="#0000FF" stroke-width="3.0" stroke-linejoin="round" stroke-linecap="butt" />
<polyline points="345.40,100.00 370.00,103.30 395.00,106.20 410.40,109.00 425.80,112.00 441.20,115.90 456.60,122.00 471.30,129.80" fill="none" stroke="#7E2F8E" stroke-width="2.9" stroke-linejoin="round" stroke-linecap="butt" />
<polyline points="470.80,130.40 476.20,144.80 480.70,161.00 483.40,174.50" fill="none" stroke="#000" stroke-width="3.0" stroke-linejoin="round" stroke-linecap="butt" />
<rect x="305.5" y="94" width="200.0" height="87" fill="none" stroke="#000" stroke-width="1.3"/>
<line x1="325.50" y1="181.00" x2="325.50" y2="177.60" stroke="#000" stroke-width="1.0" />
<line x1="325.50" y1="94.00" x2="325.50" y2="97.40" stroke="#000" stroke-width="1.0" />
<text transform="translate(323.39,192.10) scale(1.0000,1)" font-size="7.6" fill="#000" stroke="#000" stroke-width="0.300">6</text>
<line x1="375.50" y1="181.00" x2="375.50" y2="177.60" stroke="#000" stroke-width="1.0" />
<line x1="375.50" y1="94.00" x2="375.50" y2="97.40" stroke="#000" stroke-width="1.0" />
<text transform="translate(370.22,192.10) scale(1.0000,1)" font-size="7.6" fill="#000" stroke="#000" stroke-width="0.300">6.5</text>
<line x1="425.50" y1="181.00" x2="425.50" y2="177.60" stroke="#000" stroke-width="1.0" />
<line x1="425.50" y1="94.00" x2="425.50" y2="97.40" stroke="#000" stroke-width="1.0" />
<text transform="translate(423.39,192.10) scale(1.0000,1)" font-size="7.6" fill="#000" stroke="#000" stroke-width="0.300">7</text>
<line x1="475.50" y1="181.00" x2="475.50" y2="177.60" stroke="#000" stroke-width="1.0" />
<line x1="475.50" y1="94.00" x2="475.50" y2="97.40" stroke="#000" stroke-width="1.0" />
<text transform="translate(470.22,192.10) scale(1.0000,1)" font-size="7.6" fill="#000" stroke="#000" stroke-width="0.300">7.5</text>
<line x1="305.50" y1="165.60" x2="308.90" y2="165.60" stroke="#000" stroke-width="1.0" />
<line x1="505.50" y1="165.60" x2="502.10" y2="165.60" stroke="#000" stroke-width="1.0" />
<text transform="translate(288.43,168.90) scale(1.0000,1)" font-size="7.6" fill="#000" stroke="#000" stroke-width="0.300">200</text>
<line x1="305.50" y1="134.70" x2="308.90" y2="134.70" stroke="#000" stroke-width="1.0" />
<line x1="505.50" y1="134.70" x2="502.10" y2="134.70" stroke="#000" stroke-width="1.0" />
<text transform="translate(288.43,138.00) scale(1.0000,1)" font-size="7.6" fill="#000" stroke="#000" stroke-width="0.300">400</text>
<line x1="305.50" y1="103.80" x2="308.90" y2="103.80" stroke="#000" stroke-width="1.0" />
<line x1="505.50" y1="103.80" x2="502.10" y2="103.80" stroke="#000" stroke-width="1.0" />
<text transform="translate(288.43,107.10) scale(1.0000,1)" font-size="7.6" fill="#000" stroke="#000" stroke-width="0.300">600</text>
<text transform="translate(491.00,191.30) scale(1.0036,1)" font-size="9.0" fill="#000" stroke="#000" stroke-width="0.299">time[s]</text>
<text transform="translate(285.40,150.90) rotate(-90) scale(1.0534,1)" font-size="8.8" fill="#000" stroke="#000" stroke-width="0.285">E[keV]</text>
<text transform="translate(311.80,111.60) scale(1.0651,1)" font-size="9.6" font-weight="bold" fill="#000" stroke="#000" stroke-width="0.188">(c)</text>
<text transform="translate(351.60,121.90) scale(1.1452,1)" font-size="9.1" font-weight="bold" fill="#7E2F8E" stroke="#7E2F8E" stroke-width="0.175">dE/dt=-0.07MeV/s</text>
<text transform="translate(351.60,135.00) scale(1.0000,1)" font-size="10.4" font-weight="bold" fill="#7E2F8E" stroke="#7E2F8E" stroke-width="0.200">P</text>
<text transform="translate(358.70,140.80) scale(1.0306,1)" font-size="7.8" font-weight="bold" fill="#7E2F8E" stroke="#7E2F8E" stroke-width="0.194">Ac.</text>
<text transform="translate(372.20,135.00) scale(1.1453,1)" font-size="9.1" font-weight="bold" fill="#7E2F8E" stroke="#7E2F8E" stroke-width="0.175">=1.473MeV/s</text>
<text transform="translate(327.90,152.80) scale(1.0000,1)" font-size="10.4" font-weight="bold" fill="#0000FF" stroke="#0000FF" stroke-width="0.200">P</text>
<text transform="translate(335.60,158.20) scale(1.0306,1)" font-size="7.8" font-weight="bold" fill="#0000FF" stroke="#0000FF" stroke-width="0.194">Ac.</text>
<text transform="translate(349.10,152.80) scale(1.1269,1)" font-size="9.1" font-weight="bold" fill="#0000FF" stroke="#0000FF" stroke-width="0.177">=4.663MeV/s</text>
<text transform="translate(443.20,161.30) scale(1.0000,1)" font-size="10.4" font-weight="bold" fill="#000" stroke="#000" stroke-width="0.200">P</text>
<text transform="translate(449.80,166.90) scale(1.0718,1)" font-size="7.8" font-weight="bold" fill="#000" stroke="#000" stroke-width="0.187">Ac.</text>
<text transform="translate(463.20,161.30) scale(1.0796,1)" font-size="9.1" font-weight="bold" fill="#000" stroke="#000" stroke-width="0.185">=0</text>
<defs><clipPath id="cd"><rect x="28.7" y="198" width="219.6" height="99"/></clipPath></defs>
<text transform="translate(58.10,189.70) scale(1.0596,1)" font-size="9.1" font-weight="bold" fill="#000" stroke="#000" stroke-width="0.189">EAST#85003</text>
<text transform="translate(119.90,189.70) scale(0.8712,1)" font-size="9.1" font-weight="bold" fill="#000" stroke="#000" stroke-width="0.230">I</text>
<text transform="translate(123.00,194.50) scale(1.1803,1)" font-size="6.6" font-weight="bold" fill="#000" stroke="#000" stroke-width="0.169">SX</text>
<text transform="translate(133.80,189.70) scale(1.0000,1)" font-size="9.1" font-weight="bold" fill="#000" stroke="#000" stroke-width="0.200">(</text>
<text transform="translate(136.63,189.70) scale(1.0759,1)" font-size="8.4" font-style="italic" fill="#000" stroke="#000" stroke-width="0.279">ρ</text>
<text transform="translate(142.20,189.70) scale(1.0000,1)" font-size="9.1" font-weight="bold" fill="#000" stroke="#000" stroke-width="0.200">)</text>
<text transform="translate(149.10,189.70) scale(0.9789,1)" font-size="9.1" font-weight="bold" fill="#000" stroke="#000" stroke-width="0.204">by</text>
<text transform="translate(163.00,189.70) scale(1.0909,1)" font-size="9.1" font-weight="bold" fill="#000" stroke="#000" stroke-width="0.183">SXR</text>
<text transform="translate(186.50,189.70) scale(0.9886,1)" font-size="9.1" font-weight="bold" fill="#000" stroke="#000" stroke-width="0.202">&amp;</text>
<text transform="translate(196.00,189.70) scale(0.9368,1)" font-size="9.1" font-weight="bold" fill="#000" stroke="#000" stroke-width="0.214">n</text>
<text transform="translate(202.10,194.90) scale(1.0647,1)" font-size="6.6" font-weight="bold" fill="#000" stroke="#000" stroke-width="0.188">e</text>
<text transform="translate(207.30,189.70) scale(1.0000,1)" font-size="9.1" font-weight="bold" fill="#000" stroke="#000" stroke-width="0.200">(</text>
<text transform="translate(210.23,189.70) scale(1.1158,1)" font-size="8.4" font-style="italic" fill="#000" stroke="#000" stroke-width="0.269">ρ</text>
<text transform="translate(216.40,189.70) scale(1.0000,1)" font-size="9.1" font-weight="bold" fill="#000" stroke="#000" stroke-width="0.200">)</text>
<g clip-path="url(#cd)">
<polyline points="28.70,231.90 39.68,236.20 50.66,241.70 61.64,251.40 72.62,256.90 83.60,266.00 94.58,274.40 105.56,281.00 116.54,286.00 127.52,289.50 138.50,293.00 149.48,294.00 160.46,294.50 171.44,295.00 182.42,295.50 193.40,296.00 204.38,296.00 215.36,296.00 226.34,296.00 237.32,296.50 248.30,296.50" fill="none" stroke="#FF0000" stroke-width="1.7" stroke-linejoin="round" stroke-linecap="butt" />
</g>
<polygon points="39.68,232.31 35.61,239.16 43.75,239.16" fill="#FF0000" stroke="#FF0000" stroke-width="0.5" stroke-linejoin="miter"/>
<polygon points="50.66,237.81 46.59,244.66 54.73,244.66" fill="#FF0000" stroke="#FF0000" stroke-width="0.5" stroke-linejoin="miter"/>
<polygon points="61.64,247.52 57.57,254.36 65.71,254.36" fill="#FF0000" stroke="#FF0000" stroke-width="0.5" stroke-linejoin="miter"/>
<polygon points="72.62,253.01 68.55,259.86 76.69,259.86" fill="#FF0000" stroke="#FF0000" stroke-width="0.5" stroke-linejoin="miter"/>
<polygon points="83.60,262.12 79.53,268.96 87.67,268.96" fill="#FF0000" stroke="#FF0000" stroke-width="0.5" stroke-linejoin="miter"/>
<polygon points="94.58,270.51 90.51,277.36 98.65,277.36" fill="#FF0000" stroke="#FF0000" stroke-width="0.5" stroke-linejoin="miter"/>
<polygon points="105.56,277.12 101.49,283.96 109.63,283.96" fill="#FF0000" stroke="#FF0000" stroke-width="0.5" stroke-linejoin="miter"/>
<polygon points="116.54,282.12 112.47,288.96 120.61,288.96" fill="#FF0000" stroke="#FF0000" stroke-width="0.5" stroke-linejoin="miter"/>
<polygon points="127.52,285.62 123.45,292.46 131.59,292.46" fill="#FF0000" stroke="#FF0000" stroke-width="0.5" stroke-linejoin="miter"/>
<polygon points="138.50,289.12 134.43,295.96 142.57,295.96" fill="#FF0000" stroke="#FF0000" stroke-width="0.5" stroke-linejoin="miter"/>
<polygon points="149.48,290.12 145.41,296.96 153.55,296.96" fill="#FF0000" stroke="#FF0000" stroke-width="0.5" stroke-linejoin="miter"/>
<polygon points="160.46,290.62 156.39,297.46 164.53,297.46" fill="#FF0000" stroke="#FF0000" stroke-width="0.5" stroke-linejoin="miter"/>
<polygon points="171.44,291.12 167.37,297.96 175.51,297.96" fill="#FF0000" stroke="#FF0000" stroke-width="0.5" stroke-linejoin="miter"/>
<polygon points="182.42,291.62 178.35,298.46 186.49,298.46" fill="#FF0000" stroke="#FF0000" stroke-width="0.5" stroke-linejoin="miter"/>
<polygon points="193.40,292.12 189.33,298.96 197.47,298.96" fill="#FF0000" stroke="#FF0000" stroke-width="0.5" stroke-linejoin="miter"/>
<polygon points="204.38,292.12 200.31,298.96 208.45,298.96" fill="#FF0000" stroke="#FF0000" stroke-width="0.5" stroke-linejoin="miter"/>
<polygon points="215.36,292.12 211.29,298.96 219.43,298.96" fill="#FF0000" stroke="#FF0000" stroke-width="0.5" stroke-linejoin="miter"/>
<polygon points="226.34,292.12 222.27,298.96 230.41,298.96" fill="#FF0000" stroke="#FF0000" stroke-width="0.5" stroke-linejoin="miter"/>
<polygon points="237.32,292.62 233.25,299.46 241.39,299.46" fill="#FF0000" stroke="#FF0000" stroke-width="0.5" stroke-linejoin="miter"/>
<polygon points="248.30,292.62 244.23,299.46 252.37,299.46" fill="#FF0000" stroke="#FF0000" stroke-width="0.5" stroke-linejoin="miter"/>
<g clip-path="url(#cd)">
<polyline points="28.70,201.40 39.68,204.30 50.66,210.80 61.64,227.50 72.62,238.40 83.60,251.40 94.58,261.20 105.56,270.40 116.54,276.40 127.52,281.50 138.50,283.50 149.48,285.00 160.46,286.20 171.44,288.50 182.42,292.50 193.40,295.00 204.38,296.00 215.36,296.50 226.34,296.50 237.32,296.50 248.30,296.50" fill="none" stroke="#0000FF" stroke-width="1.7" stroke-linejoin="round" stroke-linecap="butt" />
</g>
<polygon points="39.68,200.42 35.61,207.26 43.75,207.26" fill="#0000FF" stroke="#0000FF" stroke-width="0.5" stroke-linejoin="miter"/>
<polygon points="50.66,206.92 46.59,213.76 54.73,213.76" fill="#0000FF" stroke="#0000FF" stroke-width="0.5" stroke-linejoin="miter"/>
<polygon points="61.64,223.62 57.57,230.46 65.71,230.46" fill="#0000FF" stroke="#0000FF" stroke-width="0.5" stroke-linejoin="miter"/>
<polygon points="72.62,234.52 68.55,241.36 76.69,241.36" fill="#0000FF" stroke="#0000FF" stroke-width="0.5" stroke-linejoin="miter"/>
<polygon points="83.60,247.52 79.53,254.36 87.67,254.36" fill="#0000FF" stroke="#0000FF" stroke-width="0.5" stroke-linejoin="miter"/>
<polygon points="94.58,257.31 90.51,264.16 98.65,264.16" fill="#0000FF" stroke="#0000FF" stroke-width="0.5" stroke-linejoin="miter"/>
<polygon points="105.56,266.51 101.49,273.36 109.63,273.36" fill="#0000FF" stroke="#0000FF" stroke-width="0.5" stroke-linejoin="miter"/>
<polygon points="116.54,272.51 112.47,279.36 120.61,279.36" fill="#0000FF" stroke="#0000FF" stroke-width="0.5" stroke-linejoin="miter"/>
<polygon points="127.52,277.62 123.45,284.46 131.59,284.46" fill="#0000FF" stroke="#0000FF" stroke-width="0.5" stroke-linejoin="miter"/>
<polygon points="138.50,279.62 134.43,286.46 142.57,286.46" fill="#0000FF" stroke="#0000FF" stroke-width="0.5" stroke-linejoin="miter"/>
<polygon points="149.48,281.12 145.41,287.96 153.55,287.96" fill="#0000FF" stroke="#0000FF" stroke-width="0.5" stroke-linejoin="miter"/>
<polygon points="160.46,282.31 156.39,289.16 164.53,289.16" fill="#0000FF" stroke="#0000FF" stroke-width="0.5" stroke-linejoin="miter"/>
<polygon points="171.44,284.62 167.37,291.46 175.51,291.46" fill="#0000FF" stroke="#0000FF" stroke-width="0.5" stroke-linejoin="miter"/>
<polygon points="182.42,288.62 178.35,295.46 186.49,295.46" fill="#0000FF" stroke="#0000FF" stroke-width="0.5" stroke-linejoin="miter"/>
<polygon points="193.40,291.12 189.33,297.96 197.47,297.96" fill="#0000FF" stroke="#0000FF" stroke-width="0.5" stroke-linejoin="miter"/>
<polygon points="204.38,292.12 200.31,298.96 208.45,298.96" fill="#0000FF" stroke="#0000FF" stroke-width="0.5" stroke-linejoin="miter"/>
<polygon points="215.36,292.62 211.29,299.46 219.43,299.46" fill="#0000FF" stroke="#0000FF" stroke-width="0.5" stroke-linejoin="miter"/>
<polygon points="226.34,292.62 222.27,299.46 230.41,299.46" fill="#0000FF" stroke="#0000FF" stroke-width="0.5" stroke-linejoin="miter"/>
<polygon points="237.32,292.62 233.25,299.46 241.39,299.46" fill="#0000FF" stroke="#0000FF" stroke-width="0.5" stroke-linejoin="miter"/>
<polygon points="248.30,292.62 244.23,299.46 252.37,299.46" fill="#0000FF" stroke="#0000FF" stroke-width="0.5" stroke-linejoin="miter"/>
<g clip-path="url(#cd)">
<polyline points="28.70,207.30 39.68,208.60 50.66,215.10 61.64,222.10 72.62,229.70 83.60,241.70 94.58,253.60 105.56,265.30 116.54,273.40 127.52,279.40 138.50,285.90 149.48,285.30 160.46,283.40 171.44,285.30 182.42,290.10 193.40,294.90 204.38,294.90 215.36,294.90 226.34,294.90 237.32,296.00 248.30,296.50" fill="none" stroke="#FF00FF" stroke-width="1.7" stroke-linejoin="round" stroke-linecap="butt" />
</g>
<polygon points="39.68,204.72 35.61,211.56 43.75,211.56" fill="#FF00FF" stroke="#FF00FF" stroke-width="0.5" stroke-linejoin="miter"/>
<polygon points="50.66,211.22 46.59,218.06 54.73,218.06" fill="#FF00FF" stroke="#FF00FF" stroke-width="0.5" stroke-linejoin="miter"/>
<polygon points="61.64,218.22 57.57,225.06 65.71,225.06" fill="#FF00FF" stroke="#FF00FF" stroke-width="0.5" stroke-linejoin="miter"/>
<polygon points="72.62,225.81 68.55,232.66 76.69,232.66" fill="#FF00FF" stroke="#FF00FF" stroke-width="0.5" stroke-linejoin="miter"/>
<polygon points="83.60,237.81 79.53,244.66 87.67,244.66" fill="#FF00FF" stroke="#FF00FF" stroke-width="0.5" stroke-linejoin="miter"/>
<polygon points="94.58,249.72 90.51,256.56 98.65,256.56" fill="#FF00FF" stroke="#FF00FF" stroke-width="0.5" stroke-linejoin="miter"/>
<polygon points="105.56,261.42 101.49,268.26 109.63,268.26" fill="#FF00FF" stroke="#FF00FF" stroke-width="0.5" stroke-linejoin="miter"/>
<polygon points="116.54,269.51 112.47,276.36 120.61,276.36" fill="#FF00FF" stroke="#FF00FF" stroke-width="0.5" stroke-linejoin="miter"/>
<polygon points="127.52,275.51 123.45,282.36 131.59,282.36" fill="#FF00FF" stroke="#FF00FF" stroke-width="0.5" stroke-linejoin="miter"/>
<polygon points="138.50,282.01 134.43,288.86 142.57,288.86" fill="#FF00FF" stroke="#FF00FF" stroke-width="0.5" stroke-linejoin="miter"/>
<polygon points="149.48,281.42 145.41,288.26 153.55,288.26" fill="#FF00FF" stroke="#FF00FF" stroke-width="0.5" stroke-linejoin="miter"/>
<polygon points="160.46,279.51 156.39,286.36 164.53,286.36" fill="#FF00FF" stroke="#FF00FF" stroke-width="0.5" stroke-linejoin="miter"/>
<polygon points="171.44,281.42 167.37,288.26 175.51,288.26" fill="#FF00FF" stroke="#FF00FF" stroke-width="0.5" stroke-linejoin="miter"/>
<polygon points="182.42,286.22 178.35,293.06 186.49,293.06" fill="#FF00FF" stroke="#FF00FF" stroke-width="0.5" stroke-linejoin="miter"/>
<polygon points="193.40,291.01 189.33,297.86 197.47,297.86" fill="#FF00FF" stroke="#FF00FF" stroke-width="0.5" stroke-linejoin="miter"/>
<polygon points="204.38,291.01 200.31,297.86 208.45,297.86" fill="#FF00FF" stroke="#FF00FF" stroke-width="0.5" stroke-linejoin="miter"/>
<polygon points="215.36,291.01 211.29,297.86 219.43,297.86" fill="#FF00FF" stroke="#FF00FF" stroke-width="0.5" stroke-linejoin="miter"/>
<polygon points="226.34,291.01 222.27,297.86 230.41,297.86" fill="#FF00FF" stroke="#FF00FF" stroke-width="0.5" stroke-linejoin="miter"/>
<polygon points="237.32,292.12 233.25,298.96 241.39,298.96" fill="#FF00FF" stroke="#FF00FF" stroke-width="0.5" stroke-linejoin="miter"/>
<polygon points="248.30,292.62 244.23,299.46 252.37,299.46" fill="#FF00FF" stroke="#FF00FF" stroke-width="0.5" stroke-linejoin="miter"/>
<g clip-path="url(#cd)">
<polyline points="28.70,254.70 39.68,261.80 50.66,266.30 61.64,264.00 72.62,260.90 83.60,266.30 94.58,271.40 105.56,278.40 116.54,283.50 127.52,287.50 138.50,292.60 149.48,292.60 160.46,292.00 171.44,292.50 182.42,294.00 193.40,295.00 204.38,295.00 215.36,295.00 226.34,295.00 237.32,296.00 248.30,296.50" fill="none" stroke="#000" stroke-width="1.7" stroke-linejoin="round" stroke-linecap="butt" />
</g>
<polygon points="39.68,257.92 35.61,264.76 43.75,264.76" fill="#000" stroke="#000" stroke-width="0.5" stroke-linejoin="miter"/>
<polygon points="50.66,262.42 46.59,269.26 54.73,269.26" fill="#000" stroke="#000" stroke-width="0.5" stroke-linejoin="miter"/>
<polygon points="61.64,260.12 57.57,266.96 65.71,266.96" fill="#000" stroke="#000" stroke-width="0.5" stroke-linejoin="miter"/>
<polygon points="72.62,257.01 68.55,263.86 76.69,263.86" fill="#000" stroke="#000" stroke-width="0.5" stroke-linejoin="miter"/>
<polygon points="83.60,262.42 79.53,269.26 87.67,269.26" fill="#000" stroke="#000" stroke-width="0.5" stroke-linejoin="miter"/>
<polygon points="94.58,267.51 90.51,274.36 98.65,274.36" fill="#000" stroke="#000" stroke-width="0.5" stroke-linejoin="miter"/>
<polygon points="105.56,274.51 101.49,281.36 109.63,281.36" fill="#000" stroke="#000" stroke-width="0.5" stroke-linejoin="miter"/>
<polygon points="116.54,279.62 112.47,286.46 120.61,286.46" fill="#000" stroke="#000" stroke-width="0.5" stroke-linejoin="miter"/>
<polygon points="127.52,283.62 123.45,290.46 131.59,290.46" fill="#000" stroke="#000" stroke-width="0.5" stroke-linejoin="miter"/>
<polygon points="138.50,288.72 134.43,295.56 142.57,295.56" fill="#000" stroke="#000" stroke-width="0.5" stroke-linejoin="miter"/>
<polygon points="149.48,288.72 145.41,295.56 153.55,295.56" fill="#000" stroke="#000" stroke-width="0.5" stroke-linejoin="miter"/>
<polygon points="160.46,288.12 156.39,294.96 164.53,294.96" fill="#000" stroke="#000" stroke-width="0.5" stroke-linejoin="miter"/>
<polygon points="171.44,288.62 167.37,295.46 175.51,295.46" fill="#000" stroke="#000" stroke-width="0.5" stroke-linejoin="miter"/>
<polygon points="182.42,290.12 178.35,296.96 186.49,296.96" fill="#000" stroke="#000" stroke-width="0.5" stroke-linejoin="miter"/>
<polygon points="193.40,291.12 189.33,297.96 197.47,297.96" fill="#000" stroke="#000" stroke-width="0.5" stroke-linejoin="miter"/>
<polygon points="204.38,291.12 200.31,297.96 208.45,297.96" fill="#000" stroke="#000" stroke-width="0.5" stroke-linejoin="miter"/>
<polygon points="215.36,291.12 211.29,297.96 219.43,297.96" fill="#000" stroke="#000" stroke-width="0.5" stroke-linejoin="miter"/>
<polygon points="226.34,291.12 222.27,297.96 230.41,297.96" fill="#000" stroke="#000" stroke-width="0.5" stroke-linejoin="miter"/>
<polygon points="237.32,292.12 233.25,298.96 241.39,298.96" fill="#000" stroke="#000" stroke-width="0.5" stroke-linejoin="miter"/>
<polygon points="248.30,292.62 244.23,299.46 252.37,299.46" fill="#000" stroke="#000" stroke-width="0.5" stroke-linejoin="miter"/>
<polyline points="81.10,224.50 90.60,227.10 99.30,229.70 106.20,233.20 112.30,236.70 119.20,240.10 125.30,242.70 132.20,246.20 139.10,248.80 146.10,251.40 153.90,254.00 160.80,256.60 167.30,259.70 173.10,262.70 179.90,266.00 186.60,268.90 192.40,271.80 198.20,274.30 204.90,277.00 210.70,278.50 217.40,280.10 223.20,281.40 228.00,283.40 232.90,287.20 237.70,290.50 242.50,293.00 246.30,294.00" fill="none" stroke="#0072BD" stroke-width="1.5" stroke-linejoin="round" stroke-linecap="butt" />
<polygon points="81.10,220.75 83.60,224.50 81.10,228.25 78.60,224.50" fill="none" stroke="#0072BD" stroke-width="1.9"/>
<polygon points="90.60,223.35 93.10,227.10 90.60,230.85 88.10,227.10" fill="none" stroke="#0072BD" stroke-width="1.9"/>
<polygon points="99.30,225.95 101.80,229.70 99.30,233.45 96.80,229.70" fill="none" stroke="#0072BD" stroke-width="1.9"/>
<polygon points="106.20,229.45 108.70,233.20 106.20,236.95 103.70,233.20" fill="none" stroke="#0072BD" stroke-width="1.9"/>
<polygon points="112.30,232.95 114.80,236.70 112.30,240.45 109.80,236.70" fill="none" stroke="#0072BD" stroke-width="1.9"/>
<polygon points="119.20,236.35 121.70,240.10 119.20,243.85 116.70,240.10" fill="none" stroke="#0072BD" stroke-width="1.9"/>
<polygon points="125.30,238.95 127.80,242.70 125.30,246.45 122.80,242.70" fill="none" stroke="#0072BD" stroke-width="1.9"/>
<polygon points="132.20,242.45 134.70,246.20 132.20,249.95 129.70,246.20" fill="none" stroke="#0072BD" stroke-width="1.9"/>
<polygon points="139.10,245.05 141.60,248.80 139.10,252.55 136.60,248.80" fill="none" stroke="#0072BD" stroke-width="1.9"/>
<polygon points="146.10,247.65 148.60,251.40 146.10,255.15 143.60,251.40" fill="none" stroke="#0072BD" stroke-width="1.9"/>
<polygon points="153.90,250.25 156.40,254.00 153.90,257.75 151.40,254.00" fill="none" stroke="#0072BD" stroke-width="1.9"/>
<polygon points="160.80,252.85 163.30,256.60 160.80,260.35 158.30,256.60" fill="none" stroke="#0072BD" stroke-width="1.9"/>
<polygon points="167.30,255.95 169.80,259.70 167.30,263.45 164.80,259.70" fill="none" stroke="#0072BD" stroke-width="1.9"/>
<polygon points="173.10,258.95 175.60,262.70 173.10,266.45 170.60,262.70" fill="none" stroke="#0072BD" stroke-width="1.9"/>
<polygon points="179.90,262.25 182.40,266.00 179.90,269.75 177.40,266.00" fill="none" stroke="#0072BD" stroke-width="1.9"/>
<polygon points="186.60,265.15 189.10,268.90 186.60,272.65 184.10,268.90" fill="none" stroke="#0072BD" stroke-width="1.9"/>
<polygon points="192.40,268.05 194.90,271.80 192.40,275.55 189.90,271.80" fill="none" stroke="#0072BD" stroke-width="1.9"/>
<polygon points="198.20,270.55 200.70,274.30 198.20,278.05 195.70,274.30" fill="none" stroke="#0072BD" stroke-width="1.9"/>
<polygon points="204.90,273.25 207.40,277.00 204.90,280.75 202.40,277.00" fill="none" stroke="#0072BD" stroke-width="1.9"/>
<polygon points="210.70,274.75 213.20,278.50 210.70,282.25 208.20,278.50" fill="none" stroke="#0072BD" stroke-width="1.9"/>
<polygon points="217.40,276.35 219.90,280.10 217.40,283.85 214.90,280.10" fill="none" stroke="#0072BD" stroke-width="1.9"/>
<polygon points="223.20,277.65 225.70,281.40 223.20,285.15 220.70,281.40" fill="none" stroke="#0072BD" stroke-width="1.9"/>
<polygon points="228.00,279.65 230.50,283.40 228.00,287.15 225.50,283.40" fill="none" stroke="#0072BD" stroke-width="1.9"/>
<polygon points="232.90,283.45 235.40,287.20 232.90,290.95 230.40,287.20" fill="none" stroke="#0072BD" stroke-width="1.9"/>
<polygon points="237.70,286.75 240.20,290.50 237.70,294.25 235.20,290.50" fill="none" stroke="#0072BD" stroke-width="1.9"/>
<polygon points="242.50,289.25 245.00,293.00 242.50,296.75 240.00,293.00" fill="none" stroke="#0072BD" stroke-width="1.9"/>
<polygon points="246.30,290.25 248.80,294.00 246.30,297.75 243.80,294.00" fill="none" stroke="#0072BD" stroke-width="1.9"/>
<line x1="193.40" y1="237.50" x2="193.40" y2="297.00" stroke="#000" stroke-width="1.0" stroke-dasharray="2.2,1.3"/>
<path d="M248.3,198 L28.7,198 L28.7,297 L248.3,297" fill="none" stroke="#000" stroke-width="1.3"/>
<line x1="248.30" y1="197.50" x2="248.30" y2="297.50" stroke="#0072BD" stroke-width="1.3" />
<text transform="translate(26.69,308.10) scale(1.0000,1)" font-size="7.6" fill="#000" stroke="#000" stroke-width="0.300">0</text>
<line x1="72.62" y1="297.00" x2="72.62" y2="293.60" stroke="#000" stroke-width="1.0" />
<line x1="72.62" y1="198.00" x2="72.62" y2="201.40" stroke="#000" stroke-width="1.0" />
<text transform="translate(67.44,308.10) scale(1.0000,1)" font-size="7.6" fill="#000" stroke="#000" stroke-width="0.300">0.2</text>
<line x1="116.54" y1="297.00" x2="116.54" y2="293.60" stroke="#000" stroke-width="1.0" />
<line x1="116.54" y1="198.00" x2="116.54" y2="201.40" stroke="#000" stroke-width="1.0" />
<text transform="translate(111.36,308.10) scale(1.0000,1)" font-size="7.6" fill="#000" stroke="#000" stroke-width="0.300">0.4</text>
<line x1="160.46" y1="297.00" x2="160.46" y2="293.60" stroke="#000" stroke-width="1.0" />
<line x1="160.46" y1="198.00" x2="160.46" y2="201.40" stroke="#000" stroke-width="1.0" />
<text transform="translate(155.28,308.10) scale(1.0000,1)" font-size="7.6" fill="#000" stroke="#000" stroke-width="0.300">0.6</text>
<line x1="204.38" y1="297.00" x2="204.38" y2="293.60" stroke="#000" stroke-width="1.0" />
<line x1="204.38" y1="198.00" x2="204.38" y2="201.40" stroke="#000" stroke-width="1.0" />
<text transform="translate(199.20,308.10) scale(1.0000,1)" font-size="7.6" fill="#000" stroke="#000" stroke-width="0.300">0.8</text>
<text transform="translate(246.29,308.10) scale(1.0000,1)" font-size="7.6" fill="#000" stroke="#000" stroke-width="0.300">1</text>
<line x1="28.70" y1="297.00" x2="32.10" y2="297.00" stroke="#000" stroke-width="1.0" />
<text transform="translate(21.38,300.30) scale(1.0000,1)" font-size="7.6" fill="#000" stroke="#000" stroke-width="0.300">0</text>
<line x1="28.70" y1="267.00" x2="32.10" y2="267.00" stroke="#000" stroke-width="1.0" />
<text transform="translate(12.93,270.30) scale(1.0000,1)" font-size="7.6" fill="#000" stroke="#000" stroke-width="0.300">200</text>
<line x1="28.70" y1="237.00" x2="32.10" y2="237.00" stroke="#000" stroke-width="1.0" />
<text transform="translate(12.93,240.30) scale(1.0000,1)" font-size="7.6" fill="#000" stroke="#000" stroke-width="0.300">400</text>
<line x1="28.70" y1="207.00" x2="32.10" y2="207.00" stroke="#000" stroke-width="1.0" />
<text transform="translate(12.93,210.30) scale(1.0000,1)" font-size="7.6" fill="#000" stroke="#000" stroke-width="0.300">600</text>
<line x1="244.90" y1="297.00" x2="248.30" y2="297.00" stroke="#0072BD" stroke-width="1.1" />
<text transform="translate(251.20,300.20) scale(1.0000,1)" font-size="8.0" font-weight="bold" fill="#0072BD" stroke="#0072BD" stroke-width="0.200">1</text>
<line x1="244.90" y1="272.30" x2="248.30" y2="272.30" stroke="#0072BD" stroke-width="1.1" />
<text transform="translate(251.20,275.50) scale(1.0000,1)" font-size="8.0" font-weight="bold" fill="#0072BD" stroke="#0072BD" stroke-width="0.200">2</text>
<line x1="244.90" y1="247.60" x2="248.30" y2="247.60" stroke="#0072BD" stroke-width="1.1" />
<text transform="translate(251.20,250.80) scale(1.0000,1)" font-size="8.0" font-weight="bold" fill="#0072BD" stroke="#0072BD" stroke-width="0.200">3</text>
<line x1="244.90" y1="222.90" x2="248.30" y2="222.90" stroke="#0072BD" stroke-width="1.1" />
<text transform="translate(251.20,226.10) scale(1.0000,1)" font-size="8.0" font-weight="bold" fill="#0072BD" stroke="#0072BD" stroke-width="0.200">4</text>
<line x1="244.90" y1="198.20" x2="248.30" y2="198.20" stroke="#0072BD" stroke-width="1.1" />
<text transform="translate(251.20,201.40) scale(1.0000,1)" font-size="8.0" font-weight="bold" fill="#0072BD" stroke="#0072BD" stroke-width="0.200">5</text>
<text transform="translate(136.23,319.50) scale(1.0042,1)" font-size="9.0" font-style="italic" fill="#000" stroke="#000" stroke-width="0.299">ρ</text>
<text transform="translate(7.50,265.20) rotate(-90) scale(0.5274,1)" font-size="8.2" fill="#000" stroke="#000" stroke-width="0.569">I</text>
<text transform="translate(11.60,261.50) rotate(-90) scale(0.8544,1)" font-size="7.0" fill="#000" stroke="#000" stroke-width="0.351">sx0</text>
<text transform="translate(7.50,251.40) rotate(-90) scale(1.1340,1)" font-size="8.6" fill="#000" stroke="#000" stroke-width="0.265">[a.u.]</text>
<text transform="translate(270.00,271.80) rotate(-90) scale(1.2459,1)" font-size="9.4" fill="#0072BD" stroke="#0072BD" stroke-width="0.241">n</text>
<text transform="translate(272.80,264.30) rotate(-90) scale(1.1659,1)" font-size="6.8" fill="#0072BD" stroke="#0072BD" stroke-width="0.257">e</text>
<text transform="translate(270.00,259.50) rotate(-90) scale(1.0562,1)" font-size="9.4" fill="#0072BD" stroke="#0072BD" stroke-width="0.284">[10</text>
<text transform="translate(264.40,246.70) rotate(-90) scale(0.8724,1)" font-size="6.8" fill="#0072BD" stroke="#0072BD" stroke-width="0.344">19</text>
<text transform="translate(270.00,240.10) rotate(-90) scale(0.9456,1)" font-size="9.4" fill="#0072BD" stroke="#0072BD" stroke-width="0.317">m</text>
<text transform="translate(264.40,231.80) rotate(-90) scale(1.0575,1)" font-size="6.8" fill="#0072BD" stroke="#0072BD" stroke-width="0.284">-3</text>
<text transform="translate(270.00,226.20) rotate(-90) scale(1.4568,1)" font-size="9.4" fill="#0072BD" stroke="#0072BD" stroke-width="0.206">]</text>
<text transform="translate(35.80,290.30) scale(0.9948,1)" font-size="9.6" font-weight="bold" fill="#000" stroke="#000" stroke-width="0.201">(d)</text>
<rect x="115.5" y="198" width="132.8" height="39.6" fill="#fff" stroke="#000" stroke-width="1.1"/>
<line x1="117.80" y1="205.80" x2="144.30" y2="205.80" stroke="#0000FF" stroke-width="1.8" />
<polygon points="131.50,201.71 127.21,208.92 135.79,208.92" fill="#0000FF" stroke="#0000FF" stroke-width="0.5" stroke-linejoin="miter"/>
<text transform="translate(147.40,208.40) scale(0.4383,1)" font-size="7.4" fill="#000" stroke="#000" stroke-width="0.684">I</text>
<text transform="translate(148.70,211.00) scale(1.0126,1)" font-size="5.4" fill="#000" stroke="#000" stroke-width="0.296">SX</text>
<text transform="translate(156.70,208.40) scale(0.9610,1)" font-size="7.2" fill="#000" stroke="#000" stroke-width="0.312">@5.5s</text>
<line x1="117.80" y1="217.90" x2="144.30" y2="217.90" stroke="#FF0000" stroke-width="1.8" />
<polygon points="131.50,213.81 127.21,221.02 135.79,221.02" fill="#FF0000" stroke="#FF0000" stroke-width="0.5" stroke-linejoin="miter"/>
<text transform="translate(147.40,220.50) scale(0.4383,1)" font-size="7.4" fill="#000" stroke="#000" stroke-width="0.684">I</text>
<text transform="translate(148.70,223.10) scale(1.0126,1)" font-size="5.4" fill="#000" stroke="#000" stroke-width="0.296">SX</text>
<text transform="translate(156.70,220.50) scale(0.9610,1)" font-size="7.2" fill="#000" stroke="#000" stroke-width="0.312">@6.1s</text>
<line x1="117.80" y1="230.50" x2="144.30" y2="230.50" stroke="#FF00FF" stroke-width="1.8" />
<polygon points="131.50,226.41 127.21,233.62 135.79,233.62" fill="#FF00FF" stroke="#FF00FF" stroke-width="0.5" stroke-linejoin="miter"/>
<text transform="translate(147.40,233.10) scale(0.4383,1)" font-size="7.4" fill="#000" stroke="#000" stroke-width="0.684">I</text>
<text transform="translate(148.70,235.70) scale(1.0126,1)" font-size="5.4" fill="#000" stroke="#000" stroke-width="0.296">SX</text>
<text transform="translate(156.70,233.10) scale(0.9667,1)" font-size="7.2" fill="#000" stroke="#000" stroke-width="0.310">@6.68s</text>
<line x1="184.70" y1="205.80" x2="210.40" y2="205.80" stroke="#000" stroke-width="1.8" />
<polygon points="197.50,201.71 193.21,208.92 201.79,208.92" fill="#000" stroke="#000" stroke-width="0.5" stroke-linejoin="miter"/>
<text transform="translate(213.50,208.20) scale(0.4383,1)" font-size="7.4" fill="#000" stroke="#000" stroke-width="0.684">I</text>
<text transform="translate(215.40,211.20) scale(0.9849,1)" font-size="5.4" fill="#000" stroke="#000" stroke-width="0.305">SX</text>
<text transform="translate(223.20,208.20) scale(0.9658,1)" font-size="7.2" fill="#000" stroke="#000" stroke-width="0.311">@7.5s</text>
<line x1="184.70" y1="217.90" x2="210.40" y2="217.90" stroke="#000" stroke-width="1.0" stroke-dasharray="2.2,1.3"/>
<text transform="translate(213.25,219.50) scale(0.8875,1)" font-size="6.6" font-style="italic" fill="#000" stroke="#000" stroke-width="0.338">ρ</text>
<text transform="translate(217.10,223.30) scale(1.0385,1)" font-size="5.2" fill="#000" stroke="#000" stroke-width="0.289">s</text>
<line x1="184.70" y1="230.70" x2="210.40" y2="230.70" stroke="#0072BD" stroke-width="1.8" />
<polygon points="197.50,226.35 200.40,230.70 197.50,235.05 194.60,230.70" fill="none" stroke="#0072BD" stroke-width="1.9"/>
<text transform="translate(213.70,232.30) scale(0.7257,1)" font-size="7.2" fill="#000" stroke="#000" stroke-width="0.413">n</text>
<text transform="translate(217.10,235.50) scale(0.9009,1)" font-size="5.4" fill="#000" stroke="#000" stroke-width="0.333">e</text>
<text transform="translate(220.50,232.60) scale(1.0028,1)" font-size="7.2" fill="#000" stroke="#000" stroke-width="0.299">@6.68s</text>
<text transform="translate(331.00,206.90) scale(1.0314,1)" font-size="9.3" font-weight="bold" fill="#000" stroke="#000" stroke-width="0.194">EAST#85003</text>
<text transform="translate(391.20,206.90) scale(1.1458,1)" font-size="9.3" font-weight="bold" fill="#000" stroke="#000" stroke-width="0.175">T</text>
<text transform="translate(399.00,212.00) scale(1.0920,1)" font-size="6.6" font-weight="bold" fill="#000" stroke="#000" stroke-width="0.183">e</text>
<text transform="translate(404.30,206.90) scale(1.0000,1)" font-size="9.3" font-weight="bold" fill="#000" stroke="#000" stroke-width="0.200">(</text>
<text transform="translate(406.84,206.90) scale(1.1357,1)" font-size="8.4" font-style="italic" fill="#000" stroke="#000" stroke-width="0.264">ρ</text>
<text transform="translate(413.30,206.90) scale(1.0000,1)" font-size="9.3" font-weight="bold" fill="#000" stroke="#000" stroke-width="0.200">)</text>
<text transform="translate(419.40,206.90) scale(0.9578,1)" font-size="9.3" font-weight="bold" fill="#000" stroke="#000" stroke-width="0.209">by</text>
<text transform="translate(433.20,206.90) scale(1.0256,1)" font-size="9.3" font-weight="bold" fill="#000" stroke="#000" stroke-width="0.195">ECE</text>
<text transform="translate(456.30,206.90) scale(0.9845,1)" font-size="9.3" font-weight="bold" fill="#000" stroke="#000" stroke-width="0.203">&amp;T</text>
<text transform="translate(469.60,212.00) scale(0.8989,1)" font-size="6.0" fill="#000" stroke="#000" stroke-width="0.334">i</text>
<text transform="translate(472.00,206.90) scale(1.0000,1)" font-size="9.3" font-weight="bold" fill="#000" stroke="#000" stroke-width="0.200">(</text>
<text transform="translate(474.65,206.90) scale(1.1955,1)" font-size="8.4" font-style="italic" fill="#000" stroke="#000" stroke-width="0.251">ρ</text>
<text transform="translate(481.50,206.90) scale(1.0000,1)" font-size="9.3" font-weight="bold" fill="#000" stroke="#000" stroke-width="0.200">)</text>
<polyline points="319.90,256.70 329.20,256.70 336.70,253.90 343.20,256.70 349.70,257.60 357.10,262.30 363.70,266.00 372.70,269.10 381.10,272.80 389.50,274.70 397.80,277.50 406.20,280.30 413.90,279.90 424.50,281.80 435.00,285.60 444.70,285.60 456.20,286.60 466.80,287.00 480.30,290.50 493.80,296.20 506.30,296.20" fill="none" stroke="#000" stroke-width="1.7" stroke-linejoin="round" stroke-linecap="butt" />
<circle cx="319.90" cy="256.70" r="2.3" fill="none" stroke="#000" stroke-width="1.5"/>
<circle cx="329.20" cy="256.70" r="2.3" fill="none" stroke="#000" stroke-width="1.5"/>
<circle cx="336.70" cy="253.90" r="2.3" fill="none" stroke="#000" stroke-width="1.5"/>
<circle cx="343.20" cy="256.70" r="2.3" fill="none" stroke="#000" stroke-width="1.5"/>
<circle cx="349.70" cy="257.60" r="2.3" fill="none" stroke="#000" stroke-width="1.5"/>
<circle cx="357.10" cy="262.30" r="2.3" fill="none" stroke="#000" stroke-width="1.5"/>
<circle cx="363.70" cy="266.00" r="2.3" fill="none" stroke="#000" stroke-width="1.5"/>
<circle cx="372.70" cy="269.10" r="2.3" fill="none" stroke="#000" stroke-width="1.5"/>
<circle cx="381.10" cy="272.80" r="2.3" fill="none" stroke="#000" stroke-width="1.5"/>
<circle cx="389.50" cy="274.70" r="2.3" fill="none" stroke="#000" stroke-width="1.5"/>
<circle cx="397.80" cy="277.50" r="2.3" fill="none" stroke="#000" stroke-width="1.5"/>
<circle cx="406.20" cy="280.30" r="2.3" fill="none" stroke="#000" stroke-width="1.5"/>
<circle cx="413.90" cy="279.90" r="2.3" fill="none" stroke="#000" stroke-width="1.5"/>
<circle cx="424.50" cy="281.80" r="2.3" fill="none" stroke="#000" stroke-width="1.5"/>
<circle cx="435.00" cy="285.60" r="2.3" fill="none" stroke="#000" stroke-width="1.5"/>
<circle cx="444.70" cy="285.60" r="2.3" fill="none" stroke="#000" stroke-width="1.5"/>
<circle cx="456.20" cy="286.60" r="2.3" fill="none" stroke="#000" stroke-width="1.5"/>
<circle cx="466.80" cy="287.00" r="2.3" fill="none" stroke="#000" stroke-width="1.5"/>
<circle cx="480.30" cy="290.50" r="2.3" fill="none" stroke="#000" stroke-width="1.5"/>
<circle cx="493.80" cy="296.20" r="2.3" fill="none" stroke="#000" stroke-width="1.5"/>
<circle cx="506.30" cy="296.20" r="2.3" fill="none" stroke="#000" stroke-width="1.5"/>
<polyline points="329.20,216.70 335.70,218.50 343.20,219.80 350.60,229.70 358.10,235.30 363.70,248.30 372.70,253.60 380.10,259.80 388.50,262.60 397.80,264.50 406.20,265.40 415.80,268.30 424.50,269.30 435.00,274.70 444.70,277.00 456.20,279.60 466.80,281.50 480.30,284.00 493.80,295.00 506.30,295.60" fill="none" stroke="#0000FF" stroke-width="1.7" stroke-linejoin="round" stroke-linecap="butt" />
<circle cx="329.20" cy="216.70" r="2.3" fill="none" stroke="#0000FF" stroke-width="1.5"/>
<circle cx="335.70" cy="218.50" r="2.3" fill="none" stroke="#0000FF" stroke-width="1.5"/>
<circle cx="343.20" cy="219.80" r="2.3" fill="none" stroke="#0000FF" stroke-width="1.5"/>
<circle cx="350.60" cy="229.70" r="2.3" fill="none" stroke="#0000FF" stroke-width="1.5"/>
<circle cx="358.10" cy="235.30" r="2.3" fill="none" stroke="#0000FF" stroke-width="1.5"/>
<circle cx="363.70" cy="248.30" r="2.3" fill="none" stroke="#0000FF" stroke-width="1.5"/>
<circle cx="372.70" cy="253.60" r="2.3" fill="none" stroke="#0000FF" stroke-width="1.5"/>
<circle cx="380.10" cy="259.80" r="2.3" fill="none" stroke="#0000FF" stroke-width="1.5"/>
<circle cx="388.50" cy="262.60" r="2.3" fill="none" stroke="#0000FF" stroke-width="1.5"/>
<circle cx="397.80" cy="264.50" r="2.3" fill="none" stroke="#0000FF" stroke-width="1.5"/>
<circle cx="406.20" cy="265.40" r="2.3" fill="none" stroke="#0000FF" stroke-width="1.5"/>
<circle cx="415.80" cy="268.30" r="2.3" fill="none" stroke="#0000FF" stroke-width="1.5"/>
<circle cx="424.50" cy="269.30" r="2.3" fill="none" stroke="#0000FF" stroke-width="1.5"/>
<circle cx="435.00" cy="274.70" r="2.3" fill="none" stroke="#0000FF" stroke-width="1.5"/>
<circle cx="444.70" cy="277.00" r="2.3" fill="none" stroke="#0000FF" stroke-width="1.5"/>
<circle cx="456.20" cy="279.60" r="2.3" fill="none" stroke="#0000FF" stroke-width="1.5"/>
<circle cx="466.80" cy="281.50" r="2.3" fill="none" stroke="#0000FF" stroke-width="1.5"/>
<circle cx="480.30" cy="284.00" r="2.3" fill="none" stroke="#0000FF" stroke-width="1.5"/>
<circle cx="493.80" cy="295.00" r="2.3" fill="none" stroke="#0000FF" stroke-width="1.5"/>
<circle cx="506.30" cy="295.60" r="2.3" fill="none" stroke="#0000FF" stroke-width="1.5"/>
<polyline points="320.80,218.00 329.20,219.80 336.70,221.30 343.20,223.20 349.70,230.60 357.10,236.20 363.70,248.80 372.70,254.20 380.10,260.80 388.50,264.50 397.80,266.30 405.30,267.30 412.70,269.10 415.80,269.20 424.50,271.20 435.00,276.00 444.70,277.90 456.20,279.80 466.80,281.40 480.30,283.70 493.80,295.00 506.30,295.60" fill="none" stroke="#FF0000" stroke-width="1.7" stroke-linejoin="round" stroke-linecap="butt" />
<circle cx="320.80" cy="218.00" r="2.3" fill="none" stroke="#FF0000" stroke-width="1.5"/>
<circle cx="329.20" cy="219.80" r="2.3" fill="none" stroke="#FF0000" stroke-width="1.5"/>
<circle cx="336.70" cy="221.30" r="2.3" fill="none" stroke="#FF0000" stroke-width="1.5"/>
<circle cx="343.20" cy="223.20" r="2.3" fill="none" stroke="#FF0000" stroke-width="1.5"/>
<circle cx="349.70" cy="230.60" r="2.3" fill="none" stroke="#FF0000" stroke-width="1.5"/>
<circle cx="357.10" cy="236.20" r="2.3" fill="none" stroke="#FF0000" stroke-width="1.5"/>
<circle cx="363.70" cy="248.80" r="2.3" fill="none" stroke="#FF0000" stroke-width="1.5"/>
<circle cx="372.70" cy="254.20" r="2.3" fill="none" stroke="#FF0000" stroke-width="1.5"/>
<circle cx="380.10" cy="260.80" r="2.3" fill="none" stroke="#FF0000" stroke-width="1.5"/>
<circle cx="388.50" cy="264.50" r="2.3" fill="none" stroke="#FF0000" stroke-width="1.5"/>
<circle cx="397.80" cy="266.30" r="2.3" fill="none" stroke="#FF0000" stroke-width="1.5"/>
<circle cx="405.30" cy="267.30" r="2.3" fill="none" stroke="#FF0000" stroke-width="1.5"/>
<circle cx="412.70" cy="269.10" r="2.3" fill="none" stroke="#FF0000" stroke-width="1.5"/>
<circle cx="415.80" cy="269.20" r="2.3" fill="none" stroke="#FF0000" stroke-width="1.5"/>
<circle cx="424.50" cy="271.20" r="2.3" fill="none" stroke="#FF0000" stroke-width="1.5"/>
<circle cx="435.00" cy="276.00" r="2.3" fill="none" stroke="#FF0000" stroke-width="1.5"/>
<circle cx="444.70" cy="277.90" r="2.3" fill="none" stroke="#FF0000" stroke-width="1.5"/>
<circle cx="456.20" cy="279.80" r="2.3" fill="none" stroke="#FF0000" stroke-width="1.5"/>
<circle cx="466.80" cy="281.40" r="2.3" fill="none" stroke="#FF0000" stroke-width="1.5"/>
<circle cx="480.30" cy="283.70" r="2.3" fill="none" stroke="#FF0000" stroke-width="1.5"/>
<circle cx="493.80" cy="295.00" r="2.3" fill="none" stroke="#FF0000" stroke-width="1.5"/>
<circle cx="506.30" cy="295.60" r="2.3" fill="none" stroke="#FF0000" stroke-width="1.5"/>
<polyline points="320.80,225.00 329.20,226.00 336.70,227.80 343.20,229.10 349.70,236.20 357.10,239.90 365.20,248.60 372.70,255.10 380.10,261.70 388.50,265.40 397.80,267.20 405.30,268.20 412.70,270.00 415.80,270.20 424.50,272.20 435.00,277.00 444.70,278.90 456.20,280.80 466.80,282.40 480.30,284.70 493.80,295.30 506.30,295.90" fill="none" stroke="#FF00FF" stroke-width="1.7" stroke-linejoin="round" stroke-linecap="butt" />
<circle cx="320.80" cy="225.00" r="2.3" fill="none" stroke="#FF00FF" stroke-width="1.5"/>
<circle cx="329.20" cy="226.00" r="2.3" fill="none" stroke="#FF00FF" stroke-width="1.5"/>
<circle cx="336.70" cy="227.80" r="2.3" fill="none" stroke="#FF00FF" stroke-width="1.5"/>
<circle cx="343.20" cy="229.10" r="2.3" fill="none" stroke="#FF00FF" stroke-width="1.5"/>
<circle cx="349.70" cy="236.20" r="2.3" fill="none" stroke="#FF00FF" stroke-width="1.5"/>
<circle cx="357.10" cy="239.90" r="2.3" fill="none" stroke="#FF00FF" stroke-width="1.5"/>
<circle cx="365.20" cy="248.60" r="2.3" fill="none" stroke="#FF00FF" stroke-width="1.5"/>
<circle cx="372.70" cy="255.10" r="2.3" fill="none" stroke="#FF00FF" stroke-width="1.5"/>
<circle cx="380.10" cy="261.70" r="2.3" fill="none" stroke="#FF00FF" stroke-width="1.5"/>
<circle cx="388.50" cy="265.40" r="2.3" fill="none" stroke="#FF00FF" stroke-width="1.5"/>
<circle cx="397.80" cy="267.20" r="2.3" fill="none" stroke="#FF00FF" stroke-width="1.5"/>
<circle cx="405.30" cy="268.20" r="2.3" fill="none" stroke="#FF00FF" stroke-width="1.5"/>
<circle cx="412.70" cy="270.00" r="2.3" fill="none" stroke="#FF00FF" stroke-width="1.5"/>
<circle cx="415.80" cy="270.20" r="2.3" fill="none" stroke="#FF00FF" stroke-width="1.5"/>
<circle cx="424.50" cy="272.20" r="2.3" fill="none" stroke="#FF00FF" stroke-width="1.5"/>
<circle cx="435.00" cy="277.00" r="2.3" fill="none" stroke="#FF00FF" stroke-width="1.5"/>
<circle cx="444.70" cy="278.90" r="2.3" fill="none" stroke="#FF00FF" stroke-width="1.5"/>
<circle cx="456.20" cy="280.80" r="2.3" fill="none" stroke="#FF00FF" stroke-width="1.5"/>
<circle cx="466.80" cy="282.40" r="2.3" fill="none" stroke="#FF00FF" stroke-width="1.5"/>
<circle cx="480.30" cy="284.70" r="2.3" fill="none" stroke="#FF00FF" stroke-width="1.5"/>
<circle cx="493.80" cy="295.30" r="2.3" fill="none" stroke="#FF00FF" stroke-width="1.5"/>
<circle cx="506.30" cy="295.90" r="2.3" fill="none" stroke="#FF00FF" stroke-width="1.5"/>
<rect x="306.90" y="271.90" width="5.0" height="5.0" rx="1.8" fill="none" stroke="#D95319" stroke-width="1.9"/>
<line x1="309.40" y1="270.60" x2="309.40" y2="278.20" stroke="#D95319" stroke-width="1.3" />
<line x1="307.40" y1="270.60" x2="311.40" y2="270.60" stroke="#D95319" stroke-width="1.3" />
<line x1="307.40" y1="278.20" x2="311.40" y2="278.20" stroke="#D95319" stroke-width="1.3" />
<rect x="315.00" y="272.70" width="5.0" height="5.0" rx="1.8" fill="none" stroke="#D95319" stroke-width="1.9"/>
<line x1="317.50" y1="271.40" x2="317.50" y2="279.00" stroke="#D95319" stroke-width="1.3" />
<line x1="315.50" y1="271.40" x2="319.50" y2="271.40" stroke="#D95319" stroke-width="1.3" />
<line x1="315.50" y1="279.00" x2="319.50" y2="279.00" stroke="#D95319" stroke-width="1.3" />
<rect x="323.10" y="272.70" width="5.0" height="5.0" rx="1.8" fill="none" stroke="#D95319" stroke-width="1.9"/>
<line x1="325.60" y1="271.40" x2="325.60" y2="279.00" stroke="#D95319" stroke-width="1.3" />
<line x1="323.60" y1="271.40" x2="327.60" y2="271.40" stroke="#D95319" stroke-width="1.3" />
<line x1="323.60" y1="279.00" x2="327.60" y2="279.00" stroke="#D95319" stroke-width="1.3" />
<rect x="331.20" y="271.90" width="5.0" height="5.0" rx="1.8" fill="none" stroke="#D95319" stroke-width="1.9"/>
<line x1="333.70" y1="270.60" x2="333.70" y2="278.20" stroke="#D95319" stroke-width="1.3" />
<line x1="331.70" y1="270.60" x2="335.70" y2="270.60" stroke="#D95319" stroke-width="1.3" />
<line x1="331.70" y1="278.20" x2="335.70" y2="278.20" stroke="#D95319" stroke-width="1.3" />
<rect x="340.70" y="271.90" width="5.0" height="5.0" rx="1.8" fill="none" stroke="#D95319" stroke-width="1.9"/>
<line x1="343.20" y1="270.60" x2="343.20" y2="278.20" stroke="#D95319" stroke-width="1.3" />
<line x1="341.20" y1="270.60" x2="345.20" y2="270.60" stroke="#D95319" stroke-width="1.3" />
<line x1="341.20" y1="278.20" x2="345.20" y2="278.20" stroke="#D95319" stroke-width="1.3" />
<rect x="350.10" y="271.90" width="5.0" height="5.0" rx="1.8" fill="none" stroke="#D95319" stroke-width="1.9"/>
<line x1="352.60" y1="270.60" x2="352.60" y2="278.20" stroke="#D95319" stroke-width="1.3" />
<line x1="350.60" y1="270.60" x2="354.60" y2="270.60" stroke="#D95319" stroke-width="1.3" />
<line x1="350.60" y1="278.20" x2="354.60" y2="278.20" stroke="#D95319" stroke-width="1.3" />
<rect x="359.50" y="271.90" width="5.0" height="5.0" rx="1.8" fill="none" stroke="#D95319" stroke-width="1.9"/>
<line x1="362.00" y1="270.60" x2="362.00" y2="278.20" stroke="#D95319" stroke-width="1.3" />
<line x1="360.00" y1="270.60" x2="364.00" y2="270.60" stroke="#D95319" stroke-width="1.3" />
<line x1="360.00" y1="278.20" x2="364.00" y2="278.20" stroke="#D95319" stroke-width="1.3" />
<rect x="367.60" y="272.70" width="5.0" height="5.0" rx="1.8" fill="none" stroke="#D95319" stroke-width="1.9"/>
<line x1="370.10" y1="272.00" x2="370.10" y2="278.50" stroke="#D95319" stroke-width="1.3" />
<line x1="368.10" y1="272.00" x2="372.10" y2="272.00" stroke="#D95319" stroke-width="1.3" />
<line x1="368.10" y1="278.50" x2="372.10" y2="278.50" stroke="#D95319" stroke-width="1.3" />
<rect x="369.00" y="279.50" width="5.0" height="5.0" rx="1.8" fill="none" stroke="#D95319" stroke-width="1.9"/>
<line x1="371.50" y1="279.00" x2="371.50" y2="285.00" stroke="#D95319" stroke-width="1.3" />
<line x1="369.50" y1="279.00" x2="373.50" y2="279.00" stroke="#D95319" stroke-width="1.3" />
<line x1="369.50" y1="285.00" x2="373.50" y2="285.00" stroke="#D95319" stroke-width="1.3" />
<rect x="377.10" y="272.70" width="5.0" height="5.0" rx="1.8" fill="none" stroke="#D95319" stroke-width="1.9"/>
<line x1="379.60" y1="268.50" x2="379.60" y2="283.30" stroke="#D95319" stroke-width="1.3" />
<line x1="377.60" y1="268.50" x2="381.60" y2="268.50" stroke="#D95319" stroke-width="1.3" />
<line x1="377.60" y1="283.30" x2="381.60" y2="283.30" stroke="#D95319" stroke-width="1.3" />
<rect x="387.90" y="271.10" width="5.0" height="5.0" rx="1.8" fill="none" stroke="#D95319" stroke-width="1.9"/>
<line x1="390.40" y1="270.00" x2="390.40" y2="277.50" stroke="#D95319" stroke-width="1.3" />
<line x1="388.40" y1="270.00" x2="392.40" y2="270.00" stroke="#D95319" stroke-width="1.3" />
<line x1="388.40" y1="277.50" x2="392.40" y2="277.50" stroke="#D95319" stroke-width="1.3" />
<rect x="401.40" y="270.30" width="5.0" height="5.0" rx="1.8" fill="none" stroke="#D95319" stroke-width="1.9"/>
<line x1="403.90" y1="265.80" x2="403.90" y2="279.30" stroke="#D95319" stroke-width="1.3" />
<line x1="401.90" y1="265.80" x2="405.90" y2="265.80" stroke="#D95319" stroke-width="1.3" />
<line x1="401.90" y1="279.30" x2="405.90" y2="279.30" stroke="#D95319" stroke-width="1.3" />
<rect x="412.10" y="272.70" width="5.0" height="5.0" rx="1.8" fill="none" stroke="#D95319" stroke-width="1.9"/>
<line x1="414.60" y1="268.50" x2="414.60" y2="283.30" stroke="#D95319" stroke-width="1.3" />
<line x1="412.60" y1="268.50" x2="416.60" y2="268.50" stroke="#D95319" stroke-width="1.3" />
<line x1="412.60" y1="283.30" x2="416.60" y2="283.30" stroke="#D95319" stroke-width="1.3" />
<rect x="422.90" y="279.50" width="5.0" height="5.0" rx="1.8" fill="none" stroke="#D95319" stroke-width="1.9"/>
<line x1="425.40" y1="276.60" x2="425.40" y2="290.00" stroke="#D95319" stroke-width="1.3" />
<line x1="423.40" y1="276.60" x2="427.40" y2="276.60" stroke="#D95319" stroke-width="1.3" />
<line x1="423.40" y1="290.00" x2="427.40" y2="290.00" stroke="#D95319" stroke-width="1.3" />
<line x1="457.62" y1="252.30" x2="457.62" y2="298.00" stroke="#000" stroke-width="1.0" stroke-dasharray="2.2,1.3"/>
<rect x="305.6" y="212.6" width="202.7" height="85.4" fill="none" stroke="#000" stroke-width="1.3"/>
<text transform="translate(303.49,309.20) scale(1.0000,1)" font-size="7.6" fill="#000" stroke="#000" stroke-width="0.300">0</text>
<line x1="346.14" y1="298.00" x2="346.14" y2="294.60" stroke="#000" stroke-width="1.0" />
<line x1="346.14" y1="212.60" x2="346.14" y2="216.00" stroke="#000" stroke-width="1.0" />
<text transform="translate(340.86,309.20) scale(1.0000,1)" font-size="7.6" fill="#000" stroke="#000" stroke-width="0.300">0.2</text>
<line x1="386.68" y1="298.00" x2="386.68" y2="294.60" stroke="#000" stroke-width="1.0" />
<line x1="386.68" y1="212.60" x2="386.68" y2="216.00" stroke="#000" stroke-width="1.0" />
<text transform="translate(381.40,309.20) scale(1.0000,1)" font-size="7.6" fill="#000" stroke="#000" stroke-width="0.300">0.4</text>
<line x1="427.22" y1="298.00" x2="427.22" y2="294.60" stroke="#000" stroke-width="1.0" />
<line x1="427.22" y1="212.60" x2="427.22" y2="216.00" stroke="#000" stroke-width="1.0" />
<text transform="translate(421.94,309.20) scale(1.0000,1)" font-size="7.6" fill="#000" stroke="#000" stroke-width="0.300">0.6</text>
<line x1="467.76" y1="298.00" x2="467.76" y2="294.60" stroke="#000" stroke-width="1.0" />
<line x1="467.76" y1="212.60" x2="467.76" y2="216.00" stroke="#000" stroke-width="1.0" />
<text transform="translate(462.48,309.20) scale(1.0000,1)" font-size="7.6" fill="#000" stroke="#000" stroke-width="0.300">0.8</text>
<text transform="translate(506.19,309.20) scale(1.0000,1)" font-size="7.6" fill="#000" stroke="#000" stroke-width="0.300">1</text>
<line x1="305.60" y1="298.00" x2="309.00" y2="298.00" stroke="#000" stroke-width="1.0" />
<line x1="508.30" y1="298.00" x2="504.90" y2="298.00" stroke="#000" stroke-width="1.0" />
<text transform="translate(298.18,301.20) scale(1.0000,1)" font-size="7.6" fill="#000" stroke="#000" stroke-width="0.300">0</text>
<line x1="305.60" y1="269.60" x2="309.00" y2="269.60" stroke="#000" stroke-width="1.0" />
<line x1="508.30" y1="269.60" x2="504.90" y2="269.60" stroke="#000" stroke-width="1.0" />
<text transform="translate(298.18,272.80) scale(1.0000,1)" font-size="7.6" fill="#000" stroke="#000" stroke-width="0.300">1</text>
<line x1="305.60" y1="241.20" x2="309.00" y2="241.20" stroke="#000" stroke-width="1.0" />
<line x1="508.30" y1="241.20" x2="504.90" y2="241.20" stroke="#000" stroke-width="1.0" />
<text transform="translate(298.18,244.40) scale(1.0000,1)" font-size="7.6" fill="#000" stroke="#000" stroke-width="0.300">2</text>
<line x1="305.60" y1="212.80" x2="309.00" y2="212.80" stroke="#000" stroke-width="1.0" />
<line x1="508.30" y1="212.80" x2="504.90" y2="212.80" stroke="#000" stroke-width="1.0" />
<text transform="translate(298.18,216.00) scale(1.0000,1)" font-size="7.6" fill="#000" stroke="#000" stroke-width="0.300">3</text>
<text transform="translate(404.84,319.80) scale(1.0786,1)" font-size="9.0" font-style="italic" fill="#000" stroke="#000" stroke-width="0.278">ρ</text>
<text transform="translate(291.00,276.20) rotate(-90) scale(0.9563,1)" font-size="9.6" fill="#000" stroke="#000" stroke-width="0.314">T</text>
<text transform="translate(294.40,270.60) rotate(-90) scale(1.0101,1)" font-size="6.6" fill="#000" stroke="#000" stroke-width="0.297">e</text>
<text transform="translate(290.80,266.00) rotate(-90) scale(1.3645,1)" font-size="9.0" fill="#000" stroke="#000" stroke-width="0.220">[keV]</text>
<text transform="translate(314.20,290.60) scale(1.0395,1)" font-size="9.6" font-weight="bold" fill="#000" stroke="#000" stroke-width="0.192">(e)</text>
<rect x="381.2" y="212.6" width="127.1" height="39.7" fill="#fff" stroke="#000" stroke-width="1.1"/>
<line x1="383.90" y1="220.90" x2="410.00" y2="220.90" stroke="#000" stroke-width="1.0" stroke-dasharray="2.2,1.3"/>
<text transform="translate(412.13,222.40) scale(0.8115,1)" font-size="6.6" font-style="italic" fill="#000" stroke="#000" stroke-width="0.370">ρ</text>
<text transform="translate(415.90,225.70) scale(1.0000,1)" font-size="5.2" fill="#000" stroke="#000" stroke-width="0.300">s</text>
<line x1="383.90" y1="232.60" x2="410.00" y2="232.60" stroke="#0000FF" stroke-width="1.8" />
<circle cx="396.70" cy="232.60" r="2.7" fill="none" stroke="#0000FF" stroke-width="1.6"/>
<text transform="translate(412.00,235.00) scale(1.0785,1)" font-size="7.6" fill="#000" stroke="#000" stroke-width="0.278">T</text>
<text transform="translate(416.80,237.60) scale(0.8044,1)" font-size="5.6" fill="#000" stroke="#000" stroke-width="0.373">e</text>
<text transform="translate(419.80,235.20) scale(0.9897,1)" font-size="7.2" fill="#000" stroke="#000" stroke-width="0.303">@5.5s</text>
<line x1="383.90" y1="245.20" x2="410.00" y2="245.20" stroke="#FF0000" stroke-width="1.8" />
<circle cx="396.70" cy="245.20" r="2.7" fill="none" stroke="#FF0000" stroke-width="1.6"/>
<text transform="translate(412.00,247.60) scale(1.0785,1)" font-size="7.6" fill="#000" stroke="#000" stroke-width="0.278">T</text>
<text transform="translate(416.80,250.20) scale(0.8044,1)" font-size="5.6" fill="#000" stroke="#000" stroke-width="0.373">e</text>
<text transform="translate(419.80,247.80) scale(0.9897,1)" font-size="7.2" fill="#000" stroke="#000" stroke-width="0.303">@6.1s</text>
<line x1="444.60" y1="220.90" x2="468.10" y2="220.90" stroke="#FF00FF" stroke-width="1.8" />
<circle cx="457.30" cy="220.90" r="2.7" fill="none" stroke="#FF00FF" stroke-width="1.6"/>
<text transform="translate(472.60,223.30) scale(1.0785,1)" font-size="7.6" fill="#000" stroke="#000" stroke-width="0.278">T</text>
<text transform="translate(477.40,225.90) scale(0.8044,1)" font-size="5.6" fill="#000" stroke="#000" stroke-width="0.373">e</text>
<text transform="translate(480.50,223.50) scale(0.9707,1)" font-size="7.2" fill="#000" stroke="#000" stroke-width="0.309">@6.68s</text>
<line x1="444.60" y1="232.60" x2="468.10" y2="232.60" stroke="#000" stroke-width="1.8" />
<circle cx="457.30" cy="232.60" r="2.7" fill="none" stroke="#000" stroke-width="1.6"/>
<text transform="translate(472.60,235.00) scale(1.0785,1)" font-size="7.6" fill="#000" stroke="#000" stroke-width="0.278">T</text>
<text transform="translate(477.40,237.60) scale(0.8044,1)" font-size="5.6" fill="#000" stroke="#000" stroke-width="0.373">e</text>
<text transform="translate(480.50,235.20) scale(0.9801,1)" font-size="7.2" fill="#000" stroke="#000" stroke-width="0.306">@7.5s</text>
<rect x="455.2" y="243.1" width="4.2" height="4.2" fill="none" stroke="#D95319" stroke-width="1.6"/>
<line x1="457.30" y1="240.20" x2="457.30" y2="250.20" stroke="#D95319" stroke-width="1.3" />
<line x1="455.30" y1="240.20" x2="459.30" y2="240.20" stroke="#D95319" stroke-width="1.3" />
<line x1="455.30" y1="250.20" x2="459.30" y2="250.20" stroke="#D95319" stroke-width="1.3" />
<text transform="translate(472.60,247.80) scale(1.0785,1)" font-size="7.6" fill="#000" stroke="#000" stroke-width="0.278">T</text>
<text transform="translate(477.60,250.50) scale(1.0000,1)" font-size="5.6" fill="#000" stroke="#000" stroke-width="0.300">i</text>
<text transform="translate(480.50,248.00) scale(0.9707,1)" font-size="7.2" fill="#000" stroke="#000" stroke-width="0.309">@6.69s</text>
</svg></body></html>
